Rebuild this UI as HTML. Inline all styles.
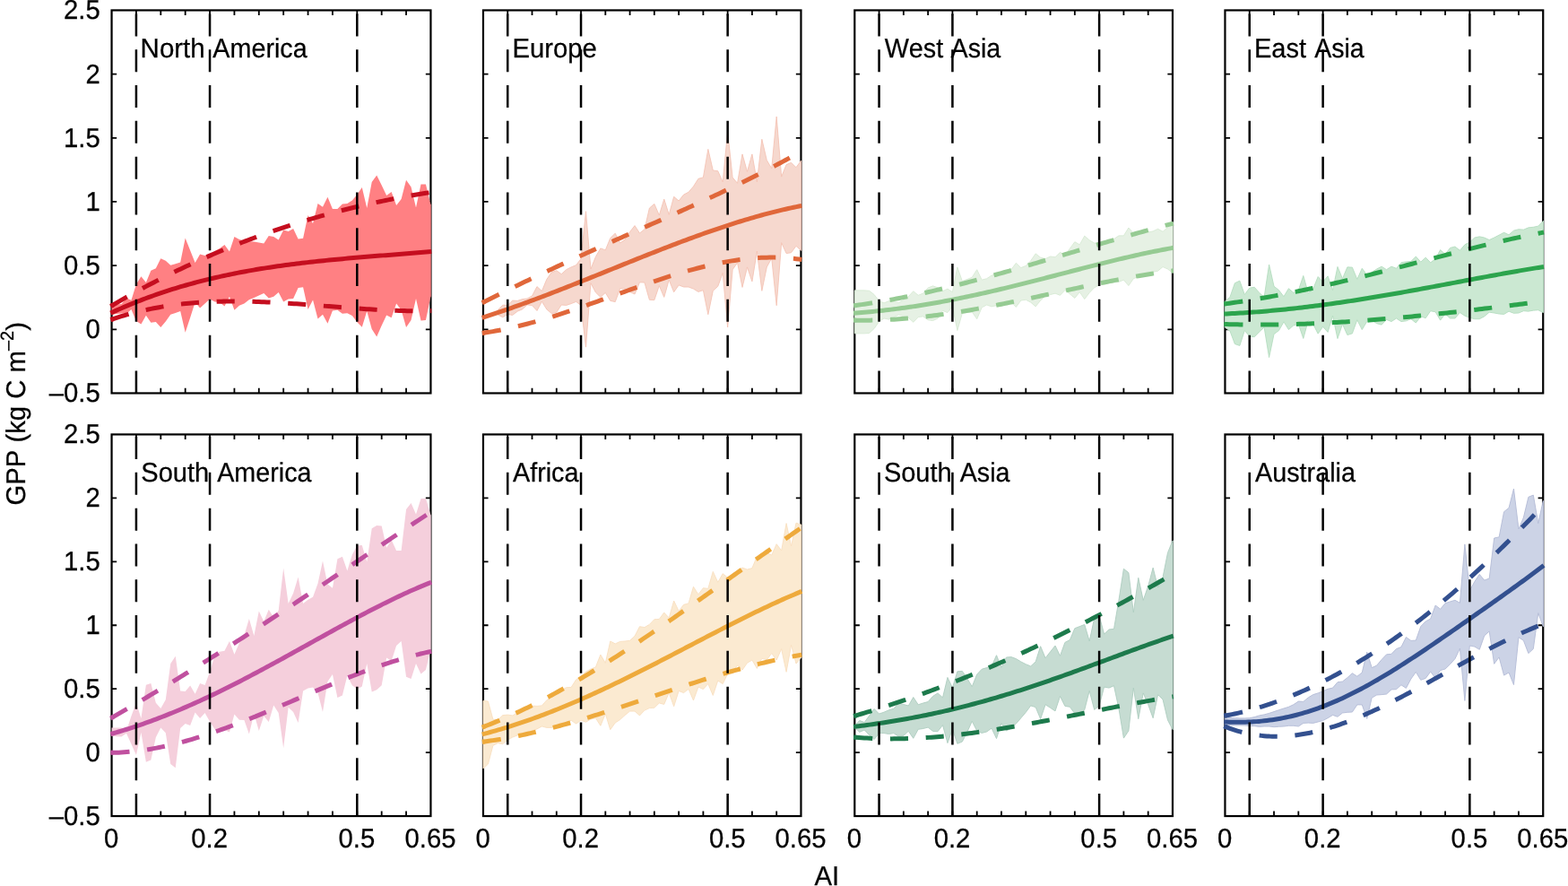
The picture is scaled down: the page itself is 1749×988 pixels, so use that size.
<!DOCTYPE html>
<html lang="en"><head><meta charset="utf-8"><title>GPP versus AI by region</title>
<style>html,body{margin:0;padding:0;background:#fff}body{width:1749px;height:988px;overflow:hidden}svg{display:block}text{font-family:"Liberation Sans", Arial, Helvetica, sans-serif;font-size:29.3px;fill:#000;stroke:#000;stroke-width:0.25px;text-rendering:geometricPrecision;font-kerning:none}</style></head><body>
<svg xmlns="http://www.w3.org/2000/svg" width="1749" height="988" viewBox="0 0 1749 988">
<rect width="1749" height="988" fill="#fff"/>
<g id="panel-1">
<rect x="124.55" y="11.45" width="355.89" height="427" fill="none" stroke="#000" stroke-width="2.2"/>
<path d="M151.93 11.45 v5.6 M151.93 438.45 v-5.6 M179.3 11.45 v5.6 M179.3 438.45 v-5.6 M206.68 11.45 v5.6 M206.68 438.45 v-5.6 M234.05 11.45 v5.6 M234.05 438.45 v-5.6 M261.43 11.45 v5.6 M261.43 438.45 v-5.6 M288.81 11.45 v5.6 M288.81 438.45 v-5.6 M316.18 11.45 v5.6 M316.18 438.45 v-5.6 M343.56 11.45 v5.6 M343.56 438.45 v-5.6 M370.94 11.45 v5.6 M370.94 438.45 v-5.6 M398.31 11.45 v5.6 M398.31 438.45 v-5.6 M425.69 11.45 v5.6 M425.69 438.45 v-5.6 M453.06 11.45 v5.6 M453.06 438.45 v-5.6 M124.55 82.62 h5.6 M480.44 82.62 h-5.6 M124.55 153.78 h5.6 M480.44 153.78 h-5.6 M124.55 224.95 h5.6 M480.44 224.95 h-5.6 M124.55 296.12 h5.6 M480.44 296.12 h-5.6 M124.55 367.28 h5.6 M480.44 367.28 h-5.6" stroke="#000" stroke-width="1.8" fill="none"/>
<path d="M124.55 343 L130.03 339.5 L135.5 339 L140.98 332.5 L146.45 334.8 L151.93 317.1 L157.4 308.3 L162.88 315 L168.35 301.7 L173.83 299.3 L179.3 288.3 L184.78 290.7 L190.25 295.7 L195.73 294.3 L201.2 292.6 L206.68 265.4 L212.15 279.3 L217.63 292.9 L223.1 283.6 L228.58 285 L234.05 283.6 L239.53 280 L245.01 277.1 L250.48 272.9 L255.96 280.4 L261.43 263.9 L266.91 267.1 L272.38 268.6 L277.86 269.3 L283.33 269.6 L288.81 270.4 L294.28 271.4 L299.76 262.9 L305.23 264 L310.71 267.6 L316.18 256.4 L321.66 257.9 L327.13 255 L332.61 266.4 L338.08 265.7 L343.56 240 L349.03 249.3 L354.51 227.1 L359.98 230.7 L365.46 219.7 L370.94 232.9 L376.41 233.1 L381.89 227.6 L387.36 227.1 L392.84 223.6 L398.31 217.1 L403.79 209 L409.26 232.1 L414.74 202.9 L420.21 195.4 L425.69 206.4 L431.16 218.1 L436.64 214 L442.11 229 L447.59 222.1 L453.06 200.7 L458.54 208.6 L464.01 231.4 L469.49 205.4 L474.96 205.4 L480.44 227.9 L480.74 227.9 L480.74 330.7 L480.44 330.7 L474.96 356.9 L469.49 357.4 L464.01 332.9 L458.54 357.1 L453.06 365 L447.59 345.7 L442.11 338.6 L436.64 354.3 L431.16 351.4 L425.69 362.9 L420.21 375.4 L414.74 367.1 L409.26 347.1 L403.79 364.7 L398.31 359.3 L392.84 352.1 L387.36 349.3 L381.89 349.7 L376.41 345.7 L370.94 346.4 L365.46 360.7 L359.98 350.7 L354.51 355.4 L349.03 334.6 L343.56 345 L338.08 320.3 L332.61 321.1 L327.13 332.9 L321.66 333.6 L316.18 336.4 L310.71 326 L305.23 330.7 L299.76 332.6 L294.28 326.9 L288.81 329.6 L283.33 332.1 L277.86 334.3 L272.38 338.6 L266.91 340.7 L261.43 345.7 L255.96 330.7 L250.48 341.4 L245.01 337.1 L239.53 336.4 L234.05 333.6 L228.58 338.6 L223.1 343.6 L217.63 337.1 L212.15 354.3 L206.68 370.7 L201.2 347.1 L195.73 348.9 L190.25 350.7 L184.78 358.6 L179.3 365 L173.83 358.9 L168.35 359.7 L162.88 351.7 L157.4 361.4 L151.93 357.9 L146.45 345 L140.98 350 L135.5 349.4 L130.03 350 L124.55 351Z" fill="#ff8083"/>
<path d="M123.35 341.56 L126.36 339.79 L129.36 338.04 L132.37 336.31 L135.38 334.58 L138.39 332.87 L141.39 331.17 L144.4 329.49 L147.41 327.81 L150.42 326.16 L153.42 324.51 L156.43 322.88 L159.44 321.26 L162.45 319.65 L165.45 318.06 L168.46 316.47 L171.47 314.91 L174.48 313.35 L177.48 311.81 L180.49 310.28 L183.5 308.76 L186.51 307.25 L189.51 305.76 L192.52 304.28 L195.53 302.81 L198.54 301.36 L201.54 299.91 L204.55 298.48 L207.56 297.06 L210.57 295.66 L213.57 294.26 L216.58 292.88 L219.59 291.51 L222.6 290.15 L225.6 288.81 L228.61 287.47 L231.62 286.15 L234.63 284.84 L237.63 283.55 L240.64 282.26 L243.65 280.98 L246.66 279.72 L249.66 278.47 L252.67 277.23 L255.68 276.01 L258.69 274.79 L261.69 273.59 L264.7 272.39 L267.71 271.21 L270.72 270.04 L273.72 268.88 L276.73 267.74 L279.74 266.6 L282.75 265.48 L285.75 264.36 L288.76 263.26 L291.77 262.17 L294.78 261.09 L297.78 260.02 L300.79 258.97 L303.8 257.92 L306.81 256.89 L309.81 255.86 L312.82 254.85 L315.83 253.85 L318.84 252.86 L321.84 251.87 L324.85 250.9 L327.86 249.95 L330.87 249 L333.87 248.06 L336.88 247.13 L339.89 246.22 L342.9 245.31 L345.9 244.41 L348.91 243.53 L351.92 242.66 L354.93 241.79 L357.93 240.94 L360.94 240.09 L363.95 239.26 L366.96 238.44 L369.96 237.63 L372.97 236.82 L375.98 236.03 L378.99 235.25 L381.99 234.48 L385 233.71 L388.01 232.96 L391.02 232.22 L394.02 231.49 L397.03 230.77 L400.04 230.05 L403.05 229.35 L406.05 228.66 L409.06 227.98 L412.07 227.3 L415.08 226.64 L418.08 225.98 L421.09 225.34 L424.1 224.71 L427.11 224.08 L430.11 223.46 L433.12 222.86 L436.13 222.26 L439.14 221.67 L442.14 221.1 L445.15 220.53 L448.16 219.97 L451.17 219.42 L454.17 218.88 L457.18 218.34 L460.19 217.82 L463.2 217.31 L466.2 216.8 L469.21 216.31 L472.22 215.82 L475.23 215.34 L478.23 214.88 L481.24 214.42" fill="none" stroke="#c50e1f" stroke-width="5" stroke-dasharray="20.1 19.7" stroke-dashoffset="-1.1"/>
<path d="M123.35 341.56 L126.36 339.79" fill="none" stroke="#c50e1f" stroke-width="5"/>
<path d="M123.35 356.62 L126.36 355.6 L129.36 354.6 L132.37 353.64 L135.38 352.71 L138.39 351.81 L141.39 350.94 L144.4 350.1 L147.41 349.29 L150.42 348.51 L153.42 347.75 L156.43 347.02 L159.44 346.32 L162.45 345.65 L165.45 345 L168.46 344.38 L171.47 343.79 L174.48 343.22 L177.48 342.68 L180.49 342.16 L183.5 341.66 L186.51 341.19 L189.51 340.74 L192.52 340.32 L195.53 339.91 L198.54 339.53 L201.54 339.17 L204.55 338.84 L207.56 338.52 L210.57 338.23 L213.57 337.95 L216.58 337.7 L219.59 337.46 L222.6 337.24 L225.6 337.05 L228.61 336.87 L231.62 336.71 L234.63 336.56 L237.63 336.44 L240.64 336.33 L243.65 336.23 L246.66 336.16 L249.66 336.09 L252.67 336.05 L255.68 336.02 L258.69 336 L261.69 335.99 L264.7 336 L267.71 336.03 L270.72 336.06 L273.72 336.11 L276.73 336.17 L279.74 336.24 L282.75 336.33 L285.75 336.42 L288.76 336.53 L291.77 336.64 L294.78 336.77 L297.78 336.9 L300.79 337.04 L303.8 337.19 L306.81 337.35 L309.81 337.52 L312.82 337.69 L315.83 337.87 L318.84 338.06 L321.84 338.25 L324.85 338.45 L327.86 338.65 L330.87 338.86 L333.87 339.08 L336.88 339.29 L339.89 339.52 L342.9 339.74 L345.9 339.97 L348.91 340.2 L351.92 340.43 L354.93 340.66 L357.93 340.9 L360.94 341.13 L363.95 341.37 L366.96 341.6 L369.96 341.84 L372.97 342.07 L375.98 342.31 L378.99 342.54 L381.99 342.77 L385 343 L388.01 343.22 L391.02 343.44 L394.02 343.66 L397.03 343.87 L400.04 344.08 L403.05 344.29 L406.05 344.49 L409.06 344.68 L412.07 344.87 L415.08 345.05 L418.08 345.23 L421.09 345.4 L424.1 345.56 L427.11 345.71 L430.11 345.85 L433.12 345.99 L436.13 346.11 L439.14 346.23 L442.14 346.34 L445.15 346.43 L448.16 346.52 L451.17 346.59 L454.17 346.65 L457.18 346.7 L460.19 346.74 L463.2 346.76 L466.2 346.78 L469.21 346.77 L472.22 346.76 L475.23 346.73 L478.23 346.68 L481.24 346.62" fill="none" stroke="#c50e1f" stroke-width="5" stroke-dasharray="20.1 19.7" stroke-dashoffset="-1.1"/>
<path d="M123.35 356.62 L126.36 355.6" fill="none" stroke="#c50e1f" stroke-width="5"/>
<path d="M123.35 349.11 L126.36 347.72 L129.36 346.36 L132.37 345.02 L135.38 343.7 L138.39 342.4 L141.39 341.13 L144.4 339.87 L147.41 338.64 L150.42 337.42 L153.42 336.23 L156.43 335.06 L159.44 333.9 L162.45 332.77 L165.45 331.66 L168.46 330.56 L171.47 329.49 L174.48 328.43 L177.48 327.39 L180.49 326.37 L183.5 325.37 L186.51 324.39 L189.51 323.42 L192.52 322.47 L195.53 321.54 L198.54 320.63 L201.54 319.73 L204.55 318.85 L207.56 317.99 L210.57 317.14 L213.57 316.31 L216.58 315.49 L219.59 314.69 L222.6 313.91 L225.6 313.14 L228.61 312.38 L231.62 311.64 L234.63 310.92 L237.63 310.2 L240.64 309.51 L243.65 308.82 L246.66 308.15 L249.66 307.49 L252.67 306.85 L255.68 306.22 L258.69 305.6 L261.69 305 L264.7 304.4 L267.71 303.82 L270.72 303.25 L273.72 302.7 L276.73 302.15 L279.74 301.62 L282.75 301.09 L285.75 300.58 L288.76 300.08 L291.77 299.59 L294.78 299.1 L297.78 298.63 L300.79 298.17 L303.8 297.72 L306.81 297.28 L309.81 296.84 L312.82 296.42 L315.83 296 L318.84 295.6 L321.84 295.2 L324.85 294.81 L327.86 294.42 L330.87 294.05 L333.87 293.68 L336.88 293.32 L339.89 292.96 L342.9 292.62 L345.9 292.28 L348.91 291.94 L351.92 291.62 L354.93 291.3 L357.93 290.98 L360.94 290.67 L363.95 290.37 L366.96 290.07 L369.96 289.77 L372.97 289.48 L375.98 289.2 L378.99 288.92 L381.99 288.64 L385 288.37 L388.01 288.1 L391.02 287.84 L394.02 287.58 L397.03 287.32 L400.04 287.07 L403.05 286.81 L406.05 286.56 L409.06 286.32 L412.07 286.07 L415.08 285.83 L418.08 285.59 L421.09 285.35 L424.1 285.11 L427.11 284.87 L430.11 284.64 L433.12 284.4 L436.13 284.17 L439.14 283.93 L442.14 283.7 L445.15 283.46 L448.16 283.23 L451.17 283 L454.17 282.76 L457.18 282.53 L460.19 282.29 L463.2 282.05 L466.2 281.81 L469.21 281.57 L472.22 281.33 L475.23 281.08 L478.23 280.84 L481.24 280.59" fill="none" stroke="#c50e1f" stroke-width="5"/>
<path d="M151.93 438.45 V11.45" stroke="#000" stroke-width="2.5" stroke-dasharray="25 14.8" fill="none"/>
<path d="M234.05 438.45 V11.45" stroke="#000" stroke-width="2.5" stroke-dasharray="25 14.8" fill="none"/>
<path d="M398.31 438.45 V11.45" stroke="#000" stroke-width="2.5" stroke-dasharray="25 14.8" fill="none"/>
<text transform="translate(0 64.05) scale(1 1.03)"><tspan x="156.58" textLength="72.14" lengthAdjust="spacingAndGlyphs">North</tspan> <tspan x="237.34" textLength="105.36" lengthAdjust="spacingAndGlyphs">America</tspan></text>
<text transform="translate(111.7 21.35) scale(1 1.03)" text-anchor="end">2.5</text>
<text transform="translate(111.7 92.52) scale(1 1.03)" text-anchor="end">2</text>
<text transform="translate(111.7 163.68) scale(1 1.03)" text-anchor="end">1.5</text>
<text transform="translate(111.7 234.85) scale(1 1.03)" text-anchor="end">1</text>
<text transform="translate(111.7 306.02) scale(1 1.03)" text-anchor="end">0.5</text>
<text transform="translate(111.7 377.18) scale(1 1.03)" text-anchor="end">0</text>
<text transform="translate(111.7 448.35) scale(1 1.03)" text-anchor="end">–0.5</text>
</g>
<g id="panel-2">
<rect x="538.97" y="11.45" width="354.49" height="427" fill="none" stroke="#000" stroke-width="2.2"/>
<path d="M566.24 11.45 v5.6 M566.24 438.45 v-5.6 M593.51 11.45 v5.6 M593.51 438.45 v-5.6 M620.78 11.45 v5.6 M620.78 438.45 v-5.6 M648.04 11.45 v5.6 M648.04 438.45 v-5.6 M675.31 11.45 v5.6 M675.31 438.45 v-5.6 M702.58 11.45 v5.6 M702.58 438.45 v-5.6 M729.85 11.45 v5.6 M729.85 438.45 v-5.6 M757.12 11.45 v5.6 M757.12 438.45 v-5.6 M784.39 11.45 v5.6 M784.39 438.45 v-5.6 M811.65 11.45 v5.6 M811.65 438.45 v-5.6 M838.92 11.45 v5.6 M838.92 438.45 v-5.6 M866.19 11.45 v5.6 M866.19 438.45 v-5.6 M538.97 82.62 h5.6 M893.46 82.62 h-5.6 M538.97 153.78 h5.6 M893.46 153.78 h-5.6 M538.97 224.95 h5.6 M893.46 224.95 h-5.6 M538.97 296.12 h5.6 M893.46 296.12 h-5.6 M538.97 367.28 h5.6 M893.46 367.28 h-5.6" stroke="#000" stroke-width="1.8" fill="none"/>
<path d="M555.33 345.8 L560.78 340.2 L566.24 340.4 L571.69 335.1 L577.15 335.4 L582.6 333.6 L588.05 333 L593.51 330 L598.96 319.6 L604.41 324.6 L609.87 311.4 L615.32 303.6 L620.78 301.7 L626.23 305.7 L631.68 300.7 L637.14 297.9 L642.59 295.7 L648.04 288.6 L653.5 235.7 L658.95 300 L664.4 286.4 L669.86 276.9 L675.31 278.9 L680.77 265.5 L686.22 260.2 L691.67 271 L697.13 267.1 L702.58 258.6 L708.03 251.6 L713.49 260 L718.94 255.7 L724.4 232.1 L729.85 227.4 L735.3 240 L740.76 222.1 L746.21 239.3 L751.66 219.3 L757.12 224 L762.57 217.1 L768.03 214.3 L773.48 207.9 L778.93 199.3 L784.39 197.9 L789.84 166.4 L795.29 190 L800.75 190.7 L806.2 202.9 L811.65 147 L817.11 197.9 L822.56 204.3 L828.02 171.9 L833.47 191.4 L838.92 171.9 L844.38 202.9 L849.83 155.3 L855.28 178.6 L860.74 187.9 L866.19 130 L871.65 197.1 L877.1 183.6 L882.55 181.4 L888.01 186.7 L893.46 179.3 L893.76 179.3 L893.76 279.3 L893.46 279.3 L888.01 274.3 L882.55 281.7 L877.1 282.6 L871.65 270.7 L866.19 340.7 L860.74 287.9 L855.28 297.9 L849.83 324.3 L844.38 280 L838.92 313.9 L833.47 297.9 L828.02 320.4 L822.56 292.9 L817.11 300.7 L811.65 365 L806.2 304.3 L800.75 319.3 L795.29 324.3 L789.84 350.7 L784.39 323.6 L778.93 325.4 L773.48 322.1 L768.03 320 L762.57 320 L757.12 317.9 L751.66 325.7 L746.21 312.1 L740.76 331.4 L735.3 318.6 L729.85 334.6 L724.4 334.3 L718.94 315 L713.49 314.8 L708.03 328 L702.58 325.4 L697.13 322.1 L691.67 321.8 L686.22 336.6 L680.77 335.4 L675.31 326.4 L669.86 331.4 L664.4 326 L658.95 315.7 L653.5 387.1 L648.04 340.4 L642.59 336.4 L637.14 338.6 L631.68 340.4 L626.23 340 L620.78 348.3 L615.32 349.6 L609.87 345 L604.41 336.2 L598.96 346.5 L593.51 340.6 L588.05 339.9 L582.6 344.9 L577.15 347.2 L571.69 351.4 L566.24 350.4 L560.78 353.8 L555.33 351Z" fill="#f6d8ce" stroke="#f4c3b4" stroke-width="0.9" stroke-linejoin="round"/>
<path d="M537.77 337.77 L540.77 336.25 L543.76 334.74 L546.76 333.23 L549.75 331.73 L552.75 330.23 L555.74 328.74 L558.74 327.25 L561.74 325.77 L564.73 324.3 L567.73 322.82 L570.72 321.36 L573.72 319.9 L576.71 318.44 L579.71 316.99 L582.71 315.54 L585.7 314.1 L588.7 312.66 L591.69 311.23 L594.69 309.8 L597.68 308.38 L600.68 306.96 L603.68 305.54 L606.67 304.13 L609.67 302.73 L612.66 301.32 L615.66 299.93 L618.65 298.53 L621.65 297.14 L624.65 295.75 L627.64 294.37 L630.64 292.99 L633.63 291.62 L636.63 290.24 L639.62 288.87 L642.62 287.51 L645.62 286.15 L648.61 284.79 L651.61 283.43 L654.6 282.08 L657.6 280.72 L660.59 279.38 L663.59 278.03 L666.59 276.68 L669.58 275.34 L672.58 274 L675.57 272.66 L678.57 271.33 L681.56 269.99 L684.56 268.66 L687.56 267.33 L690.55 266 L693.55 264.67 L696.54 263.34 L699.54 262.01 L702.53 260.69 L705.53 259.36 L708.53 258.04 L711.52 256.71 L714.52 255.38 L717.51 254.06 L720.51 252.73 L723.5 251.41 L726.5 250.08 L729.5 248.75 L732.49 247.42 L735.49 246.09 L738.48 244.76 L741.48 243.43 L744.47 242.09 L747.47 240.75 L750.47 239.42 L753.46 238.08 L756.46 236.73 L759.45 235.39 L762.45 234.04 L765.44 232.68 L768.44 231.33 L771.44 229.97 L774.43 228.61 L777.43 227.24 L780.42 225.87 L783.42 224.5 L786.41 223.12 L789.41 221.73 L792.41 220.34 L795.4 218.95 L798.4 217.55 L801.39 216.15 L804.39 214.73 L807.38 213.32 L810.38 211.89 L813.38 210.46 L816.37 209.03 L819.37 207.58 L822.36 206.13 L825.36 204.67 L828.35 203.21 L831.35 201.73 L834.35 200.25 L837.34 198.76 L840.34 197.25 L843.33 195.75 L846.33 194.23 L849.32 192.7 L852.32 191.16 L855.32 189.61 L858.31 188.05 L861.31 186.48 L864.3 184.9 L867.3 183.31 L870.29 181.7 L873.29 180.09 L876.29 178.46 L879.28 176.82 L882.28 175.16 L885.27 173.5 L888.27 171.82 L891.26 170.13 L894.26 168.42" fill="none" stroke="#e0673a" stroke-width="5" stroke-dasharray="20.1 19.7" stroke-dashoffset="-1.1"/>
<path d="M537.77 337.77 L540.77 336.25" fill="none" stroke="#e0673a" stroke-width="5"/>
<path d="M537.77 371.47 L540.77 371.04 L543.76 370.58 L546.76 370.1 L549.75 369.59 L552.75 369.06 L555.74 368.5 L558.74 367.92 L561.74 367.32 L564.73 366.7 L567.73 366.05 L570.72 365.39 L573.72 364.7 L576.71 363.99 L579.71 363.27 L582.71 362.52 L585.7 361.76 L588.7 360.98 L591.69 360.18 L594.69 359.36 L597.68 358.52 L600.68 357.68 L603.68 356.81 L606.67 355.93 L609.67 355.04 L612.66 354.13 L615.66 353.21 L618.65 352.27 L621.65 351.33 L624.65 350.37 L627.64 349.4 L630.64 348.42 L633.63 347.43 L636.63 346.43 L639.62 345.42 L642.62 344.41 L645.62 343.38 L648.61 342.35 L651.61 341.31 L654.6 340.27 L657.6 339.22 L660.59 338.16 L663.59 337.1 L666.59 336.04 L669.58 334.97 L672.58 333.9 L675.57 332.83 L678.57 331.75 L681.56 330.68 L684.56 329.6 L687.56 328.53 L690.55 327.45 L693.55 326.38 L696.54 325.31 L699.54 324.24 L702.53 323.18 L705.53 322.11 L708.53 321.05 L711.52 320 L714.52 318.95 L717.51 317.91 L720.51 316.88 L723.5 315.85 L726.5 314.83 L729.5 313.82 L732.49 312.81 L735.49 311.82 L738.48 310.84 L741.48 309.86 L744.47 308.9 L747.47 307.95 L750.47 307.02 L753.46 306.09 L756.46 305.18 L759.45 304.29 L762.45 303.41 L765.44 302.55 L768.44 301.7 L771.44 300.87 L774.43 300.06 L777.43 299.26 L780.42 298.49 L783.42 297.73 L786.41 297 L789.41 296.28 L792.41 295.59 L795.4 294.92 L798.4 294.27 L801.39 293.65 L804.39 293.05 L807.38 292.47 L810.38 291.92 L813.38 291.4 L816.37 290.9 L819.37 290.43 L822.36 289.98 L825.36 289.57 L828.35 289.19 L831.35 288.83 L834.35 288.51 L837.34 288.22 L840.34 287.96 L843.33 287.73 L846.33 287.53 L849.32 287.37 L852.32 287.25 L855.32 287.16 L858.31 287.11 L861.31 287.09 L864.3 287.11 L867.3 287.17 L870.29 287.26 L873.29 287.4 L876.29 287.58 L879.28 287.8 L882.28 288.05 L885.27 288.36 L888.27 288.7 L891.26 289.09 L894.26 289.52" fill="none" stroke="#e0673a" stroke-width="5" stroke-dasharray="20.1 19.7" stroke-dashoffset="-1.1"/>
<path d="M537.77 371.47 L540.77 371.04" fill="none" stroke="#e0673a" stroke-width="5"/>
<path d="M537.77 354.27 L540.77 353.32 L543.76 352.36 L546.76 351.39 L549.75 350.41 L552.75 349.42 L555.74 348.42 L558.74 347.41 L561.74 346.39 L564.73 345.36 L567.73 344.32 L570.72 343.28 L573.72 342.22 L576.71 341.16 L579.71 340.08 L582.71 339 L585.7 337.92 L588.7 336.82 L591.69 335.72 L594.69 334.61 L597.68 333.5 L600.68 332.37 L603.68 331.24 L606.67 330.11 L609.67 328.97 L612.66 327.82 L615.66 326.67 L618.65 325.52 L621.65 324.36 L624.65 323.19 L627.64 322.02 L630.64 320.85 L633.63 319.67 L636.63 318.49 L639.62 317.3 L642.62 316.11 L645.62 314.92 L648.61 313.73 L651.61 312.53 L654.6 311.33 L657.6 310.13 L660.59 308.93 L663.59 307.72 L666.59 306.52 L669.58 305.31 L672.58 304.1 L675.57 302.89 L678.57 301.68 L681.56 300.48 L684.56 299.27 L687.56 298.06 L690.55 296.85 L693.55 295.64 L696.54 294.44 L699.54 293.23 L702.53 292.03 L705.53 290.83 L708.53 289.63 L711.52 288.43 L714.52 287.23 L717.51 286.04 L720.51 284.85 L723.5 283.67 L726.5 282.48 L729.5 281.31 L732.49 280.13 L735.49 278.96 L738.48 277.79 L741.48 276.63 L744.47 275.48 L747.47 274.32 L750.47 273.18 L753.46 272.04 L756.46 270.9 L759.45 269.78 L762.45 268.65 L765.44 267.54 L768.44 266.43 L771.44 265.33 L774.43 264.23 L777.43 263.15 L780.42 262.07 L783.42 261 L786.41 259.94 L789.41 258.88 L792.41 257.84 L795.4 256.81 L798.4 255.78 L801.39 254.76 L804.39 253.76 L807.38 252.76 L810.38 251.77 L813.38 250.8 L816.37 249.84 L819.37 248.88 L822.36 247.94 L825.36 247.01 L828.35 246.09 L831.35 245.19 L834.35 244.29 L837.34 243.41 L840.34 242.54 L843.33 241.69 L846.33 240.85 L849.32 240.02 L852.32 239.2 L855.32 238.41 L858.31 237.62 L861.31 236.85 L864.3 236.09 L867.3 235.35 L870.29 234.63 L873.29 233.92 L876.29 233.23 L879.28 232.55 L882.28 231.89 L885.27 231.25 L888.27 230.62 L891.26 230.01 L894.26 229.42" fill="none" stroke="#e0673a" stroke-width="5"/>
<path d="M566.24 438.45 V11.45" stroke="#000" stroke-width="2.5" stroke-dasharray="25 14.8" fill="none"/>
<path d="M648.04 438.45 V11.45" stroke="#000" stroke-width="2.5" stroke-dasharray="25 14.8" fill="none"/>
<path d="M811.65 438.45 V11.45" stroke="#000" stroke-width="2.5" stroke-dasharray="25 14.8" fill="none"/>
<text transform="translate(0 64.05) scale(1 1.03)"><tspan x="571.4" textLength="94.4" lengthAdjust="spacingAndGlyphs">Europe</tspan></text>
</g>
<g id="panel-3">
<rect x="953.28" y="11.45" width="354.69" height="427" fill="none" stroke="#000" stroke-width="2.2"/>
<path d="M980.56 11.45 v5.6 M980.56 438.45 v-5.6 M1007.85 11.45 v5.6 M1007.85 438.45 v-5.6 M1035.13 11.45 v5.6 M1035.13 438.45 v-5.6 M1062.42 11.45 v5.6 M1062.42 438.45 v-5.6 M1089.7 11.45 v5.6 M1089.7 438.45 v-5.6 M1116.98 11.45 v5.6 M1116.98 438.45 v-5.6 M1144.27 11.45 v5.6 M1144.27 438.45 v-5.6 M1171.55 11.45 v5.6 M1171.55 438.45 v-5.6 M1198.83 11.45 v5.6 M1198.83 438.45 v-5.6 M1226.12 11.45 v5.6 M1226.12 438.45 v-5.6 M1253.4 11.45 v5.6 M1253.4 438.45 v-5.6 M1280.69 11.45 v5.6 M1280.69 438.45 v-5.6 M953.28 82.62 h5.6 M1307.97 82.62 h-5.6 M953.28 153.78 h5.6 M1307.97 153.78 h-5.6 M953.28 224.95 h5.6 M1307.97 224.95 h-5.6 M953.28 296.12 h5.6 M1307.97 296.12 h-5.6 M953.28 367.28 h5.6 M1307.97 367.28 h-5.6" stroke="#000" stroke-width="1.8" fill="none"/>
<path d="M953.28 323.86 L958.74 323.86 L964.19 323.86 L969.65 324.29 L975.11 328.57 L980.56 335.71 L986.02 337.86 L991.48 335.71 L996.93 336.43 L1002.39 337.57 L1007.85 334.29 L1013.3 330.71 L1018.76 324.71 L1024.22 329.29 L1029.67 327.14 L1035.13 321 L1040.59 318.86 L1046.05 320.71 L1051.5 324.71 L1056.96 322.14 L1062.42 325.71 L1067.87 297.86 L1073.33 313.57 L1078.79 311.43 L1084.24 309.29 L1089.7 300.71 L1095.16 312.14 L1100.61 310.71 L1106.07 307.14 L1111.53 305.71 L1116.98 303.57 L1122.44 302.14 L1127.9 300.71 L1133.35 293.29 L1138.81 298.57 L1144.27 296.43 L1149.72 290.71 L1155.18 282.86 L1160.64 287.14 L1166.09 288.57 L1171.55 286 L1177.01 286.71 L1182.46 281.43 L1187.92 284.29 L1193.38 277.14 L1198.83 269.71 L1204.29 272.86 L1209.75 263.14 L1215.2 267.86 L1220.66 271 L1226.12 271.43 L1231.58 269.29 L1237.03 267.86 L1242.49 266.43 L1247.95 262.86 L1253.4 262.86 L1258.86 254 L1264.32 260 L1269.77 259.29 L1275.23 258.57 L1280.69 259 L1286.14 257.86 L1291.6 255.29 L1297.06 258.29 L1302.51 253.57 L1307.97 247.86 L1308.27 247.86 L1308.27 304.29 L1307.97 304.29 L1302.51 300 L1297.06 297.57 L1291.6 302.14 L1286.14 303.29 L1280.69 305 L1275.23 307.14 L1269.77 308.57 L1264.32 310.71 L1258.86 318.57 L1253.4 312.14 L1247.95 314.29 L1242.49 315 L1237.03 315.71 L1231.58 317.14 L1226.12 317.86 L1220.66 320.71 L1215.2 326.43 L1209.75 333.57 L1204.29 325.71 L1198.83 332.43 L1193.38 327.86 L1187.92 323.57 L1182.46 329.29 L1177.01 327.14 L1171.55 328.57 L1166.09 330 L1160.64 335 L1155.18 341.86 L1149.72 337.14 L1144.27 334.29 L1138.81 335 L1133.35 342.43 L1127.9 337.14 L1122.44 338.57 L1116.98 339.29 L1111.53 340.71 L1106.07 341.86 L1100.61 340 L1095.16 342.86 L1089.7 355.71 L1084.24 347.86 L1078.79 348.57 L1073.33 349.29 L1067.87 368.57 L1062.42 341.43 L1056.96 348.57 L1051.5 346.43 L1046.05 355 L1040.59 357.57 L1035.13 356.71 L1029.67 352.86 L1024.22 353.57 L1018.76 359.29 L1013.3 354.29 L1007.85 352.86 L1002.39 351 L996.93 353.57 L991.48 356.14 L986.02 355 L980.56 358.57 L975.11 366.43 L969.65 371.43 L964.19 371.86 L958.74 371.86 L953.28 371.86Z" fill="#e6f1e4" stroke="#d7ead4" stroke-width="0.9" stroke-linejoin="round"/>
<path d="M952.08 340.85 L955.08 340.46 L958.07 340.05 L961.07 339.62 L964.07 339.19 L967.07 338.74 L970.06 338.28 L973.06 337.81 L976.06 337.33 L979.06 336.84 L982.05 336.33 L985.05 335.82 L988.05 335.29 L991.05 334.75 L994.04 334.21 L997.04 333.65 L1000.04 333.08 L1003.04 332.5 L1006.03 331.91 L1009.03 331.31 L1012.03 330.71 L1015.03 330.09 L1018.02 329.46 L1021.02 328.83 L1024.02 328.18 L1027.01 327.53 L1030.01 326.87 L1033.01 326.2 L1036.01 325.52 L1039 324.83 L1042 324.13 L1045 323.43 L1048 322.72 L1050.99 322 L1053.99 321.27 L1056.99 320.54 L1059.99 319.8 L1062.98 319.05 L1065.98 318.3 L1068.98 317.54 L1071.98 316.77 L1074.97 316 L1077.97 315.22 L1080.97 314.43 L1083.97 313.64 L1086.96 312.84 L1089.96 312.04 L1092.96 311.23 L1095.95 310.42 L1098.95 309.6 L1101.95 308.78 L1104.95 307.95 L1107.94 307.12 L1110.94 306.28 L1113.94 305.44 L1116.94 304.59 L1119.93 303.74 L1122.93 302.89 L1125.93 302.03 L1128.93 301.17 L1131.92 300.31 L1134.92 299.44 L1137.92 298.57 L1140.92 297.7 L1143.91 296.82 L1146.91 295.95 L1149.91 295.06 L1152.91 294.18 L1155.9 293.3 L1158.9 292.41 L1161.9 291.52 L1164.9 290.63 L1167.89 289.74 L1170.89 288.85 L1173.89 287.95 L1176.88 287.06 L1179.88 286.16 L1182.88 285.27 L1185.88 284.37 L1188.87 283.47 L1191.87 282.58 L1194.87 281.68 L1197.87 280.78 L1200.86 279.88 L1203.86 278.99 L1206.86 278.09 L1209.86 277.19 L1212.85 276.3 L1215.85 275.41 L1218.85 274.51 L1221.85 273.62 L1224.84 272.73 L1227.84 271.85 L1230.84 270.96 L1233.84 270.07 L1236.83 269.19 L1239.83 268.31 L1242.83 267.43 L1245.82 266.56 L1248.82 265.69 L1251.82 264.82 L1254.82 263.95 L1257.81 263.09 L1260.81 262.23 L1263.81 261.37 L1266.81 260.52 L1269.8 259.67 L1272.8 258.83 L1275.8 257.98 L1278.8 257.15 L1281.79 256.32 L1284.79 255.49 L1287.79 254.66 L1290.79 253.85 L1293.78 253.03 L1296.78 252.23 L1299.78 251.42 L1302.78 250.63 L1305.77 249.83 L1308.77 249.05" fill="none" stroke="#96cb93" stroke-width="5" stroke-dasharray="20.1 19.7" stroke-dashoffset="-1.1"/>
<path d="M952.08 340.85 L955.08 340.46" fill="none" stroke="#96cb93" stroke-width="5"/>
<path d="M952.08 357.08 L955.08 357.14 L958.07 357.18 L961.07 357.2 L964.07 357.2 L967.07 357.19 L970.06 357.16 L973.06 357.11 L976.06 357.05 L979.06 356.97 L982.05 356.87 L985.05 356.75 L988.05 356.62 L991.05 356.48 L994.04 356.32 L997.04 356.14 L1000.04 355.95 L1003.04 355.74 L1006.03 355.52 L1009.03 355.29 L1012.03 355.04 L1015.03 354.77 L1018.02 354.5 L1021.02 354.21 L1024.02 353.9 L1027.01 353.59 L1030.01 353.26 L1033.01 352.92 L1036.01 352.56 L1039 352.2 L1042 351.82 L1045 351.43 L1048 351.03 L1050.99 350.61 L1053.99 350.19 L1056.99 349.76 L1059.99 349.31 L1062.98 348.86 L1065.98 348.39 L1068.98 347.92 L1071.98 347.44 L1074.97 346.95 L1077.97 346.44 L1080.97 345.93 L1083.97 345.42 L1086.96 344.89 L1089.96 344.35 L1092.96 343.81 L1095.95 343.26 L1098.95 342.7 L1101.95 342.14 L1104.95 341.57 L1107.94 340.99 L1110.94 340.41 L1113.94 339.82 L1116.94 339.23 L1119.93 338.63 L1122.93 338.02 L1125.93 337.41 L1128.93 336.8 L1131.92 336.18 L1134.92 335.55 L1137.92 334.93 L1140.92 334.29 L1143.91 333.66 L1146.91 333.02 L1149.91 332.38 L1152.91 331.74 L1155.9 331.1 L1158.9 330.45 L1161.9 329.8 L1164.9 329.15 L1167.89 328.5 L1170.89 327.85 L1173.89 327.2 L1176.88 326.54 L1179.88 325.89 L1182.88 325.24 L1185.88 324.59 L1188.87 323.94 L1191.87 323.29 L1194.87 322.64 L1197.87 321.99 L1200.86 321.34 L1203.86 320.7 L1206.86 320.06 L1209.86 319.42 L1212.85 318.79 L1215.85 318.16 L1218.85 317.53 L1221.85 316.91 L1224.84 316.29 L1227.84 315.67 L1230.84 315.06 L1233.84 314.45 L1236.83 313.85 L1239.83 313.26 L1242.83 312.67 L1245.82 312.09 L1248.82 311.51 L1251.82 310.94 L1254.82 310.38 L1257.81 309.83 L1260.81 309.28 L1263.81 308.74 L1266.81 308.21 L1269.8 307.69 L1272.8 307.18 L1275.8 306.67 L1278.8 306.18 L1281.79 305.7 L1284.79 305.22 L1287.79 304.76 L1290.79 304.31 L1293.78 303.86 L1296.78 303.43 L1299.78 303.01 L1302.78 302.61 L1305.77 302.21 L1308.77 301.83" fill="none" stroke="#96cb93" stroke-width="5" stroke-dasharray="20.1 19.7" stroke-dashoffset="-1.1"/>
<path d="M952.08 357.08 L955.08 357.14" fill="none" stroke="#96cb93" stroke-width="5"/>
<path d="M952.08 349.14 L955.08 348.92 L958.07 348.7 L961.07 348.46 L964.07 348.22 L967.07 347.96 L970.06 347.69 L973.06 347.41 L976.06 347.12 L979.06 346.82 L982.05 346.5 L985.05 346.18 L988.05 345.84 L991.05 345.49 L994.04 345.14 L997.04 344.77 L1000.04 344.39 L1003.04 344 L1006.03 343.6 L1009.03 343.19 L1012.03 342.76 L1015.03 342.33 L1018.02 341.89 L1021.02 341.44 L1024.02 340.97 L1027.01 340.5 L1030.01 340.02 L1033.01 339.53 L1036.01 339.02 L1039 338.51 L1042 337.99 L1045 337.46 L1048 336.92 L1050.99 336.37 L1053.99 335.82 L1056.99 335.25 L1059.99 334.67 L1062.98 334.09 L1065.98 333.5 L1068.98 332.9 L1071.98 332.29 L1074.97 331.67 L1077.97 331.05 L1080.97 330.42 L1083.97 329.78 L1086.96 329.13 L1089.96 328.47 L1092.96 327.81 L1095.95 327.15 L1098.95 326.47 L1101.95 325.79 L1104.95 325.1 L1107.94 324.41 L1110.94 323.71 L1113.94 323 L1116.94 322.29 L1119.93 321.57 L1122.93 320.85 L1125.93 320.12 L1128.93 319.39 L1131.92 318.66 L1134.92 317.92 L1137.92 317.17 L1140.92 316.42 L1143.91 315.67 L1146.91 314.91 L1149.91 314.15 L1152.91 313.39 L1155.9 312.63 L1158.9 311.86 L1161.9 311.09 L1164.9 310.32 L1167.89 309.54 L1170.89 308.77 L1173.89 307.99 L1176.88 307.21 L1179.88 306.43 L1182.88 305.65 L1185.88 304.88 L1188.87 304.1 L1191.87 303.32 L1194.87 302.54 L1197.87 301.76 L1200.86 300.98 L1203.86 300.21 L1206.86 299.43 L1209.86 298.66 L1212.85 297.89 L1215.85 297.12 L1218.85 296.36 L1221.85 295.59 L1224.84 294.84 L1227.84 294.08 L1230.84 293.33 L1233.84 292.59 L1236.83 291.84 L1239.83 291.11 L1242.83 290.38 L1245.82 289.65 L1248.82 288.93 L1251.82 288.22 L1254.82 287.51 L1257.81 286.81 L1260.81 286.12 L1263.81 285.44 L1266.81 284.76 L1269.8 284.09 L1272.8 283.43 L1275.8 282.78 L1278.8 282.14 L1281.79 281.51 L1284.79 280.89 L1287.79 280.28 L1290.79 279.68 L1293.78 279.09 L1296.78 278.52 L1299.78 277.95 L1302.78 277.4 L1305.77 276.86 L1308.77 276.33" fill="none" stroke="#96cb93" stroke-width="5"/>
<path d="M980.56 438.45 V11.45" stroke="#000" stroke-width="2.5" stroke-dasharray="25 14.8" fill="none"/>
<path d="M1062.42 438.45 V11.45" stroke="#000" stroke-width="2.5" stroke-dasharray="25 14.8" fill="none"/>
<path d="M1226.12 438.45 V11.45" stroke="#000" stroke-width="2.5" stroke-dasharray="25 14.8" fill="none"/>
<text transform="translate(0 64.05) scale(1 1.03)"><tspan x="986.67" textLength="65.54" lengthAdjust="spacingAndGlyphs">West</tspan> <tspan x="1060.54" textLength="55.76" lengthAdjust="spacingAndGlyphs">Asia</tspan></text>
</g>
<g id="panel-4">
<rect x="1366.46" y="11.45" width="354.77" height="427" fill="none" stroke="#000" stroke-width="2.2"/>
<path d="M1393.75 11.45 v5.6 M1393.75 438.45 v-5.6 M1421.04 11.45 v5.6 M1421.04 438.45 v-5.6 M1448.33 11.45 v5.6 M1448.33 438.45 v-5.6 M1475.62 11.45 v5.6 M1475.62 438.45 v-5.6 M1502.91 11.45 v5.6 M1502.91 438.45 v-5.6 M1530.2 11.45 v5.6 M1530.2 438.45 v-5.6 M1557.49 11.45 v5.6 M1557.49 438.45 v-5.6 M1584.78 11.45 v5.6 M1584.78 438.45 v-5.6 M1612.07 11.45 v5.6 M1612.07 438.45 v-5.6 M1639.36 11.45 v5.6 M1639.36 438.45 v-5.6 M1666.65 11.45 v5.6 M1666.65 438.45 v-5.6 M1693.94 11.45 v5.6 M1693.94 438.45 v-5.6 M1366.46 82.62 h5.6 M1721.23 82.62 h-5.6 M1366.46 153.78 h5.6 M1721.23 153.78 h-5.6 M1366.46 224.95 h5.6 M1721.23 224.95 h-5.6 M1366.46 296.12 h5.6 M1721.23 296.12 h-5.6 M1366.46 367.28 h5.6 M1721.23 367.28 h-5.6" stroke="#000" stroke-width="1.8" fill="none"/>
<path d="M1366.46 336 L1371.92 331.43 L1377.38 315.71 L1382.83 313.14 L1388.29 328.57 L1393.75 321.14 L1399.21 320.29 L1404.67 326.43 L1410.12 331.43 L1415.58 295 L1421.04 319.29 L1426.5 323.57 L1431.96 330.71 L1437.41 321.71 L1442.87 326.43 L1448.33 323.57 L1453.79 307.43 L1459.25 326.86 L1464.7 322.14 L1470.16 308.57 L1475.62 314.29 L1481.08 307.86 L1486.54 323.57 L1491.99 297.43 L1497.45 310.71 L1502.91 297.86 L1508.37 298.14 L1513.83 311.43 L1519.28 299.29 L1524.74 306.43 L1530.2 303.57 L1535.66 300 L1541.12 297.14 L1546.57 300.71 L1552.03 297.14 L1557.49 299.29 L1562.95 292.86 L1568.41 291.86 L1573.86 291.43 L1579.32 286 L1584.78 292.14 L1590.24 287.14 L1595.7 292.86 L1601.15 288.57 L1606.61 278.57 L1612.07 283.57 L1617.53 276.43 L1622.99 275 L1628.44 279.29 L1633.9 272.86 L1639.36 270 L1644.82 265 L1650.28 263.86 L1655.73 265 L1661.19 267.57 L1666.65 265 L1672.11 262.14 L1677.57 259.29 L1683.02 261.86 L1688.48 257.14 L1693.94 255.71 L1699.4 256.14 L1704.86 253.86 L1710.31 253.29 L1715.77 252.14 L1721.23 246.43 L1721.53 246.43 L1721.53 348.57 L1721.23 348.57 L1715.77 345.71 L1710.31 346.14 L1704.86 347.14 L1699.4 346.71 L1693.94 349 L1688.48 349.29 L1683.02 347.14 L1677.57 350.43 L1672.11 350 L1666.65 349 L1661.19 348.14 L1655.73 352.86 L1650.28 355.71 L1644.82 355.71 L1639.36 354.29 L1633.9 352.14 L1628.44 348.57 L1622.99 355 L1617.53 355 L1612.07 350 L1606.61 357.14 L1601.15 347.86 L1595.7 346.71 L1590.24 354.71 L1584.78 352.86 L1579.32 360 L1573.86 355.71 L1568.41 357.86 L1562.95 358.57 L1557.49 355 L1552.03 358.57 L1546.57 356.43 L1541.12 362.14 L1535.66 360.71 L1530.2 357.14 L1524.74 358.57 L1519.28 367.57 L1513.83 356.71 L1508.37 371.86 L1502.91 373.57 L1497.45 361.43 L1491.99 377.57 L1486.54 352.14 L1481.08 370.43 L1475.62 364.29 L1470.16 372.14 L1464.7 361.43 L1459.25 357.43 L1453.79 377.43 L1448.33 361.43 L1442.87 362.86 L1437.41 367.57 L1431.96 358.86 L1426.5 368.57 L1421.04 372.57 L1415.58 398.57 L1410.12 365 L1404.67 370 L1399.21 375.71 L1393.75 375 L1388.29 368.57 L1382.83 385.43 L1377.38 383.57 L1371.92 369 L1366.46 365.14Z" fill="#cbe8d2" stroke="#b4dcc0" stroke-width="0.9" stroke-linejoin="round"/>
<path d="M1365.26 339.03 L1368.26 338.62 L1371.26 338.2 L1374.25 337.77 L1377.25 337.34 L1380.25 336.89 L1383.25 336.44 L1386.25 335.98 L1389.24 335.51 L1392.24 335.03 L1395.24 334.55 L1398.24 334.06 L1401.24 333.56 L1404.23 333.05 L1407.23 332.53 L1410.23 332.01 L1413.23 331.48 L1416.23 330.94 L1419.23 330.39 L1422.22 329.84 L1425.22 329.28 L1428.22 328.71 L1431.22 328.14 L1434.22 327.56 L1437.21 326.97 L1440.21 326.37 L1443.21 325.77 L1446.21 325.16 L1449.21 324.55 L1452.2 323.92 L1455.2 323.3 L1458.2 322.66 L1461.2 322.02 L1464.2 321.37 L1467.19 320.72 L1470.19 320.06 L1473.19 319.39 L1476.19 318.72 L1479.19 318.05 L1482.18 317.37 L1485.18 316.68 L1488.18 315.98 L1491.18 315.29 L1494.18 314.58 L1497.17 313.88 L1500.17 313.16 L1503.17 312.45 L1506.17 311.73 L1509.17 311 L1512.17 310.27 L1515.16 309.53 L1518.16 308.8 L1521.16 308.05 L1524.16 307.31 L1527.16 306.56 L1530.15 305.8 L1533.15 305.05 L1536.15 304.29 L1539.15 303.53 L1542.15 302.76 L1545.14 301.99 L1548.14 301.22 L1551.14 300.45 L1554.14 299.68 L1557.14 298.9 L1560.13 298.12 L1563.13 297.34 L1566.13 296.56 L1569.13 295.78 L1572.13 295 L1575.12 294.21 L1578.12 293.43 L1581.12 292.64 L1584.12 291.85 L1587.12 291.07 L1590.12 290.28 L1593.11 289.5 L1596.11 288.71 L1599.11 287.93 L1602.11 287.14 L1605.11 286.36 L1608.1 285.58 L1611.1 284.8 L1614.1 284.02 L1617.1 283.24 L1620.1 282.47 L1623.09 281.69 L1626.09 280.92 L1629.09 280.16 L1632.09 279.39 L1635.09 278.63 L1638.08 277.87 L1641.08 277.12 L1644.08 276.37 L1647.08 275.63 L1650.08 274.88 L1653.07 274.15 L1656.07 273.42 L1659.07 272.69 L1662.07 271.97 L1665.07 271.25 L1668.06 270.54 L1671.06 269.84 L1674.06 269.14 L1677.06 268.45 L1680.06 267.76 L1683.06 267.09 L1686.05 266.42 L1689.05 265.75 L1692.05 265.1 L1695.05 264.45 L1698.05 263.82 L1701.04 263.19 L1704.04 262.57 L1707.04 261.96 L1710.04 261.36 L1713.04 260.77 L1716.03 260.19 L1719.03 259.61 L1722.03 259.05" fill="none" stroke="#2ca44d" stroke-width="5" stroke-dasharray="20.1 19.7" stroke-dashoffset="-1.1"/>
<path d="M1365.26 339.03 L1368.26 338.62" fill="none" stroke="#2ca44d" stroke-width="5"/>
<path d="M1365.26 361.45 L1368.26 361.55 L1371.26 361.64 L1374.25 361.72 L1377.25 361.79 L1380.25 361.85 L1383.25 361.91 L1386.25 361.95 L1389.24 362 L1392.24 362.03 L1395.24 362.05 L1398.24 362.07 L1401.24 362.08 L1404.23 362.09 L1407.23 362.09 L1410.23 362.08 L1413.23 362.06 L1416.23 362.04 L1419.23 362.01 L1422.22 361.97 L1425.22 361.92 L1428.22 361.87 L1431.22 361.82 L1434.22 361.76 L1437.21 361.69 L1440.21 361.61 L1443.21 361.53 L1446.21 361.44 L1449.21 361.35 L1452.2 361.25 L1455.2 361.14 L1458.2 361.03 L1461.2 360.91 L1464.2 360.79 L1467.19 360.66 L1470.19 360.53 L1473.19 360.39 L1476.19 360.25 L1479.19 360.1 L1482.18 359.94 L1485.18 359.78 L1488.18 359.62 L1491.18 359.45 L1494.18 359.27 L1497.17 359.09 L1500.17 358.91 L1503.17 358.72 L1506.17 358.52 L1509.17 358.32 L1512.17 358.12 L1515.16 357.91 L1518.16 357.7 L1521.16 357.48 L1524.16 357.26 L1527.16 357.03 L1530.15 356.8 L1533.15 356.57 L1536.15 356.33 L1539.15 356.09 L1542.15 355.84 L1545.14 355.59 L1548.14 355.34 L1551.14 355.08 L1554.14 354.82 L1557.14 354.55 L1560.13 354.29 L1563.13 354.01 L1566.13 353.74 L1569.13 353.46 L1572.13 353.18 L1575.12 352.89 L1578.12 352.6 L1581.12 352.31 L1584.12 352.01 L1587.12 351.71 L1590.12 351.41 L1593.11 351.11 L1596.11 350.8 L1599.11 350.49 L1602.11 350.17 L1605.11 349.86 L1608.1 349.54 L1611.1 349.22 L1614.1 348.89 L1617.1 348.56 L1620.1 348.23 L1623.09 347.9 L1626.09 347.57 L1629.09 347.23 L1632.09 346.89 L1635.09 346.55 L1638.08 346.2 L1641.08 345.86 L1644.08 345.51 L1647.08 345.16 L1650.08 344.81 L1653.07 344.45 L1656.07 344.09 L1659.07 343.74 L1662.07 343.37 L1665.07 343.01 L1668.06 342.65 L1671.06 342.28 L1674.06 341.91 L1677.06 341.54 L1680.06 341.17 L1683.06 340.8 L1686.05 340.42 L1689.05 340.05 L1692.05 339.67 L1695.05 339.29 L1698.05 338.91 L1701.04 338.53 L1704.04 338.14 L1707.04 337.76 L1710.04 337.37 L1713.04 336.98 L1716.03 336.6 L1719.03 336.21 L1722.03 335.81" fill="none" stroke="#2ca44d" stroke-width="5" stroke-dasharray="20.1 19.7" stroke-dashoffset="-1.1"/>
<path d="M1365.26 361.45 L1368.26 361.55" fill="none" stroke="#2ca44d" stroke-width="5"/>
<path d="M1365.26 350.07 L1368.26 349.93 L1371.26 349.78 L1374.25 349.62 L1377.25 349.46 L1380.25 349.29 L1383.25 349.11 L1386.25 348.92 L1389.24 348.73 L1392.24 348.52 L1395.24 348.31 L1398.24 348.1 L1401.24 347.87 L1404.23 347.64 L1407.23 347.4 L1410.23 347.15 L1413.23 346.89 L1416.23 346.63 L1419.23 346.36 L1422.22 346.09 L1425.22 345.8 L1428.22 345.51 L1431.22 345.21 L1434.22 344.91 L1437.21 344.59 L1440.21 344.27 L1443.21 343.95 L1446.21 343.61 L1449.21 343.27 L1452.2 342.93 L1455.2 342.57 L1458.2 342.21 L1461.2 341.85 L1464.2 341.48 L1467.19 341.1 L1470.19 340.71 L1473.19 340.32 L1476.19 339.92 L1479.19 339.52 L1482.18 339.11 L1485.18 338.7 L1488.18 338.27 L1491.18 337.85 L1494.18 337.42 L1497.17 336.98 L1500.17 336.54 L1503.17 336.09 L1506.17 335.63 L1509.17 335.18 L1512.17 334.71 L1515.16 334.24 L1518.16 333.77 L1521.16 333.29 L1524.16 332.81 L1527.16 332.32 L1530.15 331.83 L1533.15 331.34 L1536.15 330.84 L1539.15 330.33 L1542.15 329.82 L1545.14 329.31 L1548.14 328.8 L1551.14 328.28 L1554.14 327.76 L1557.14 327.23 L1560.13 326.7 L1563.13 326.17 L1566.13 325.63 L1569.13 325.1 L1572.13 324.56 L1575.12 324.01 L1578.12 323.47 L1581.12 322.92 L1584.12 322.37 L1587.12 321.82 L1590.12 321.26 L1593.11 320.71 L1596.11 320.15 L1599.11 319.59 L1602.11 319.03 L1605.11 318.47 L1608.1 317.91 L1611.1 317.35 L1614.1 316.78 L1617.1 316.22 L1620.1 315.66 L1623.09 315.09 L1626.09 314.53 L1629.09 313.96 L1632.09 313.4 L1635.09 312.83 L1638.08 312.27 L1641.08 311.71 L1644.08 311.15 L1647.08 310.58 L1650.08 310.03 L1653.07 309.47 L1656.07 308.91 L1659.07 308.36 L1662.07 307.8 L1665.07 307.25 L1668.06 306.71 L1671.06 306.16 L1674.06 305.62 L1677.06 305.08 L1680.06 304.54 L1683.06 304.01 L1686.05 303.48 L1689.05 302.95 L1692.05 302.43 L1695.05 301.91 L1698.05 301.4 L1701.04 300.89 L1704.04 300.38 L1707.04 299.88 L1710.04 299.39 L1713.04 298.9 L1716.03 298.41 L1719.03 297.94 L1722.03 297.46" fill="none" stroke="#2ca44d" stroke-width="5"/>
<path d="M1393.75 438.45 V11.45" stroke="#000" stroke-width="2.5" stroke-dasharray="25 14.8" fill="none"/>
<path d="M1475.62 438.45 V11.45" stroke="#000" stroke-width="2.5" stroke-dasharray="25 14.8" fill="none"/>
<path d="M1639.36 438.45 V11.45" stroke="#000" stroke-width="2.5" stroke-dasharray="25 14.8" fill="none"/>
<text transform="translate(0 64.05) scale(1 1.03)"><tspan x="1398.92" textLength="58.09" lengthAdjust="spacingAndGlyphs">East</tspan> <tspan x="1466.14" textLength="55.66" lengthAdjust="spacingAndGlyphs">Asia</tspan></text>
</g>
<g id="panel-5">
<rect x="124.55" y="484.45" width="355.89" height="425.59" fill="none" stroke="#000" stroke-width="2.2"/>
<path d="M151.93 484.45 v5.6 M151.93 910.04 v-5.6 M179.3 484.45 v5.6 M179.3 910.04 v-5.6 M206.68 484.45 v5.6 M206.68 910.04 v-5.6 M234.05 484.45 v5.6 M234.05 910.04 v-5.6 M261.43 484.45 v5.6 M261.43 910.04 v-5.6 M288.81 484.45 v5.6 M288.81 910.04 v-5.6 M316.18 484.45 v5.6 M316.18 910.04 v-5.6 M343.56 484.45 v5.6 M343.56 910.04 v-5.6 M370.94 484.45 v5.6 M370.94 910.04 v-5.6 M398.31 484.45 v5.6 M398.31 910.04 v-5.6 M425.69 484.45 v5.6 M425.69 910.04 v-5.6 M453.06 484.45 v5.6 M453.06 910.04 v-5.6 M124.55 555.38 h5.6 M480.44 555.38 h-5.6 M124.55 626.31 h5.6 M480.44 626.31 h-5.6 M124.55 697.25 h5.6 M480.44 697.25 h-5.6 M124.55 768.18 h5.6 M480.44 768.18 h-5.6 M124.55 839.11 h5.6 M480.44 839.11 h-5.6" stroke="#000" stroke-width="1.8" fill="none"/>
<path d="M124.55 811.6 L130.03 811.4 L135.5 811.6 L140.98 815.2 L146.45 798.5 L151.93 783.8 L157.4 801 L162.88 763.8 L168.35 762 L173.83 783.8 L179.3 790.1 L184.78 780.2 L190.25 740 L195.73 731.8 L201.2 770.6 L206.68 771.1 L212.15 764.6 L217.63 773.7 L223.1 762 L228.58 764 L234.05 749.3 L239.53 731 L245.01 726.8 L250.48 725.7 L255.96 715 L261.43 729.7 L266.91 717.1 L272.38 708.6 L277.86 689.9 L283.33 709 L288.81 681.4 L294.28 692.9 L299.76 679.8 L305.23 688.6 L310.71 680.7 L316.18 633.6 L321.66 672.9 L327.13 661.4 L332.61 643.6 L338.08 672.9 L343.56 668.8 L349.03 665.7 L354.51 650.7 L359.98 625.5 L365.46 651.4 L370.94 655.7 L376.41 623.3 L381.89 620.7 L387.36 636.4 L392.84 618.6 L398.31 608.6 L403.79 607.9 L409.26 626.4 L414.74 589.3 L420.21 586.1 L425.69 586.4 L431.16 610.7 L436.64 602.1 L442.11 613.9 L447.59 614.1 L453.06 567.9 L458.54 561 L464.01 573.6 L469.49 556.1 L474.96 555.7 L480.44 574.3 L480.74 574.3 L480.74 724.3 L480.44 724.3 L474.96 747.1 L469.49 751.4 L464.01 740 L458.54 757.1 L453.06 754.7 L447.59 715 L442.11 720 L436.64 737.1 L431.16 733.6 L425.69 764.3 L420.21 769.3 L414.74 771.4 L409.26 740 L403.79 765.4 L398.31 768.6 L392.84 764.3 L387.36 753.6 L381.89 775.4 L376.41 777.9 L370.94 752.1 L365.46 760 L359.98 794.1 L354.51 772.5 L349.03 766.4 L343.56 767.6 L338.08 770.5 L332.61 806 L327.13 794 L321.66 788.7 L316.18 834.3 L310.71 795 L305.23 786.4 L299.76 805.1 L294.28 798.6 L288.81 815.1 L283.33 796 L277.86 818.6 L272.38 803.1 L266.91 802.7 L261.43 796.4 L255.96 816.4 L250.48 813.9 L245.01 814.6 L239.53 812.9 L234.05 804.7 L228.58 794.9 L223.1 801 L217.63 794.4 L212.15 808.9 L206.68 807.1 L201.2 812.1 L195.73 856.2 L190.25 852 L184.78 817.2 L179.3 811.4 L173.83 822.2 L168.35 847.6 L162.88 849.8 L157.4 816.7 L151.93 842 L146.45 829.8 L140.98 817.7 L135.5 821.5 L130.03 821.2 L124.55 820.7Z" fill="#f5cfdc"/>
<path d="M123.35 801.11 L126.36 799.38 L129.36 797.65 L132.37 795.91 L135.38 794.17 L138.39 792.43 L141.39 790.68 L144.4 788.92 L147.41 787.16 L150.42 785.4 L153.42 783.63 L156.43 781.86 L159.44 780.08 L162.45 778.3 L165.45 776.51 L168.46 774.72 L171.47 772.92 L174.48 771.12 L177.48 769.31 L180.49 767.5 L183.5 765.69 L186.51 763.87 L189.51 762.04 L192.52 760.21 L195.53 758.38 L198.54 756.54 L201.54 754.69 L204.55 752.84 L207.56 750.99 L210.57 749.13 L213.57 747.27 L216.58 745.4 L219.59 743.53 L222.6 741.65 L225.6 739.77 L228.61 737.89 L231.62 736 L234.63 734.1 L237.63 732.2 L240.64 730.3 L243.65 728.39 L246.66 726.48 L249.66 724.57 L252.67 722.65 L255.68 720.72 L258.69 718.79 L261.69 716.86 L264.7 714.93 L267.71 712.99 L270.72 711.04 L273.72 709.09 L276.73 707.14 L279.74 705.19 L282.75 703.23 L285.75 701.27 L288.76 699.3 L291.77 697.33 L294.78 695.36 L297.78 693.38 L300.79 691.4 L303.8 689.42 L306.81 687.43 L309.81 685.45 L312.82 683.45 L315.83 681.46 L318.84 679.46 L321.84 677.46 L324.85 675.46 L327.86 673.46 L330.87 671.45 L333.87 669.44 L336.88 667.43 L339.89 665.41 L342.9 663.4 L345.9 661.38 L348.91 659.36 L351.92 657.34 L354.93 655.32 L357.93 653.29 L360.94 651.27 L363.95 649.24 L366.96 647.21 L369.96 645.18 L372.97 643.15 L375.98 641.12 L378.99 639.09 L381.99 637.06 L385 635.02 L388.01 632.99 L391.02 630.96 L394.02 628.92 L397.03 626.89 L400.04 624.86 L403.05 622.83 L406.05 620.79 L409.06 618.76 L412.07 616.73 L415.08 614.7 L418.08 612.67 L421.09 610.64 L424.1 608.62 L427.11 606.59 L430.11 604.57 L433.12 602.55 L436.13 600.53 L439.14 598.51 L442.14 596.49 L445.15 594.48 L448.16 592.47 L451.17 590.46 L454.17 588.46 L457.18 586.45 L460.19 584.45 L463.2 582.46 L466.2 580.47 L469.21 578.48 L472.22 576.49 L475.23 574.51 L478.23 572.54 L481.24 570.57" fill="none" stroke="#c0509f" stroke-width="5" stroke-dasharray="20.1 19.7" stroke-dashoffset="-1.1"/>
<path d="M123.35 801.11 L126.36 799.38" fill="none" stroke="#c0509f" stroke-width="5"/>
<path d="M123.35 839.36 L126.36 839.32 L129.36 839.25 L132.37 839.13 L135.38 838.99 L138.39 838.8 L141.39 838.59 L144.4 838.34 L147.41 838.05 L150.42 837.74 L153.42 837.39 L156.43 837.01 L159.44 836.6 L162.45 836.16 L165.45 835.68 L168.46 835.18 L171.47 834.66 L174.48 834.1 L177.48 833.51 L180.49 832.9 L183.5 832.26 L186.51 831.6 L189.51 830.91 L192.52 830.19 L195.53 829.46 L198.54 828.69 L201.54 827.91 L204.55 827.1 L207.56 826.26 L210.57 825.41 L213.57 824.54 L216.58 823.64 L219.59 822.73 L222.6 821.79 L225.6 820.84 L228.61 819.86 L231.62 818.87 L234.63 817.87 L237.63 816.84 L240.64 815.8 L243.65 814.74 L246.66 813.67 L249.66 812.59 L252.67 811.48 L255.68 810.37 L258.69 809.24 L261.69 808.1 L264.7 806.95 L267.71 805.78 L270.72 804.61 L273.72 803.42 L276.73 802.23 L279.74 801.02 L282.75 799.81 L285.75 798.59 L288.76 797.36 L291.77 796.12 L294.78 794.87 L297.78 793.62 L300.79 792.37 L303.8 791.11 L306.81 789.84 L309.81 788.57 L312.82 787.3 L315.83 786.02 L318.84 784.74 L321.84 783.46 L324.85 782.18 L327.86 780.89 L330.87 779.61 L333.87 778.32 L336.88 777.04 L339.89 775.76 L342.9 774.48 L345.9 773.2 L348.91 771.92 L351.92 770.65 L354.93 769.38 L357.93 768.11 L360.94 766.85 L363.95 765.6 L366.96 764.35 L369.96 763.11 L372.97 761.87 L375.98 760.64 L378.99 759.42 L381.99 758.21 L385 757.01 L388.01 755.81 L391.02 754.63 L394.02 753.46 L397.03 752.3 L400.04 751.15 L403.05 750.01 L406.05 748.88 L409.06 747.77 L412.07 746.67 L415.08 745.58 L418.08 744.51 L421.09 743.46 L424.1 742.42 L427.11 741.4 L430.11 740.39 L433.12 739.4 L436.13 738.43 L439.14 737.47 L442.14 736.54 L445.15 735.62 L448.16 734.73 L451.17 733.85 L454.17 733 L457.18 732.16 L460.19 731.35 L463.2 730.56 L466.2 729.8 L469.21 729.05 L472.22 728.33 L475.23 727.64 L478.23 726.97 L481.24 726.32" fill="none" stroke="#c0509f" stroke-width="5" stroke-dasharray="20.1 19.7" stroke-dashoffset="-1.1"/>
<path d="M123.35 839.36 L126.36 839.32" fill="none" stroke="#c0509f" stroke-width="5"/>
<path d="M123.35 818.57 L126.36 817.73 L129.36 816.87 L132.37 815.99 L135.38 815.09 L138.39 814.18 L141.39 813.24 L144.4 812.29 L147.41 811.32 L150.42 810.34 L153.42 809.33 L156.43 808.31 L159.44 807.27 L162.45 806.21 L165.45 805.13 L168.46 804.04 L171.47 802.93 L174.48 801.81 L177.48 800.66 L180.49 799.5 L183.5 798.33 L186.51 797.14 L189.51 795.93 L192.52 794.71 L195.53 793.47 L198.54 792.21 L201.54 790.95 L204.55 789.66 L207.56 788.36 L210.57 787.05 L213.57 785.72 L216.58 784.38 L219.59 783.02 L222.6 781.66 L225.6 780.27 L228.61 778.88 L231.62 777.47 L234.63 776.05 L237.63 774.62 L240.64 773.17 L243.65 771.71 L246.66 770.24 L249.66 768.76 L252.67 767.27 L255.68 765.77 L258.69 764.26 L261.69 762.74 L264.7 761.2 L267.71 759.66 L270.72 758.11 L273.72 756.55 L276.73 754.98 L279.74 753.4 L282.75 751.82 L285.75 750.23 L288.76 748.63 L291.77 747.02 L294.78 745.4 L297.78 743.78 L300.79 742.16 L303.8 740.53 L306.81 738.89 L309.81 737.25 L312.82 735.6 L315.83 733.95 L318.84 732.29 L321.84 730.63 L324.85 728.97 L327.86 727.31 L330.87 725.64 L333.87 723.97 L336.88 722.3 L339.89 720.63 L342.9 718.96 L345.9 717.29 L348.91 715.62 L351.92 713.94 L354.93 712.27 L357.93 710.6 L360.94 708.94 L363.95 707.27 L366.96 705.61 L369.96 703.95 L372.97 702.29 L375.98 700.64 L378.99 698.99 L381.99 697.35 L385 695.71 L388.01 694.08 L391.02 692.46 L394.02 690.84 L397.03 689.23 L400.04 687.63 L403.05 686.03 L406.05 684.45 L409.06 682.87 L412.07 681.3 L415.08 679.75 L418.08 678.2 L421.09 676.67 L424.1 675.15 L427.11 673.64 L430.11 672.14 L433.12 670.66 L436.13 669.19 L439.14 667.73 L442.14 666.29 L445.15 664.87 L448.16 663.46 L451.17 662.07 L454.17 660.7 L457.18 659.34 L460.19 658 L463.2 656.69 L466.2 655.39 L469.21 654.11 L472.22 652.85 L475.23 651.62 L478.23 650.4 L481.24 649.21" fill="none" stroke="#c0509f" stroke-width="5"/>
<path d="M151.93 910.04 V484.45" stroke="#000" stroke-width="2.5" stroke-dasharray="25 14.8" fill="none"/>
<path d="M234.05 910.04 V484.45" stroke="#000" stroke-width="2.5" stroke-dasharray="25 14.8" fill="none"/>
<path d="M398.31 910.04 V484.45" stroke="#000" stroke-width="2.5" stroke-dasharray="25 14.8" fill="none"/>
<text transform="translate(0 537.05) scale(1 1.03)"><tspan x="157.28" textLength="76.01" lengthAdjust="spacingAndGlyphs">South</tspan> <tspan x="242.14" textLength="105.36" lengthAdjust="spacingAndGlyphs">America</tspan></text>
<text transform="translate(124.15 945.15) scale(1 1.03)" text-anchor="middle">0</text>
<text transform="translate(233.65 945.15) scale(1 1.03)" text-anchor="middle">0.2</text>
<text transform="translate(397.91 945.15) scale(1 1.03)" text-anchor="middle">0.5</text>
<text transform="translate(480.04 945.15) scale(1 1.03)" text-anchor="middle">0.65</text>
<text transform="translate(111.7 494.35) scale(1 1.03)" text-anchor="end">2.5</text>
<text transform="translate(111.7 565.28) scale(1 1.03)" text-anchor="end">2</text>
<text transform="translate(111.7 636.21) scale(1 1.03)" text-anchor="end">1.5</text>
<text transform="translate(111.7 707.14) scale(1 1.03)" text-anchor="end">1</text>
<text transform="translate(111.7 778.08) scale(1 1.03)" text-anchor="end">0.5</text>
<text transform="translate(111.7 849.01) scale(1 1.03)" text-anchor="end">0</text>
<text transform="translate(111.7 919.94) scale(1 1.03)" text-anchor="end">–0.5</text>
</g>
<g id="panel-6">
<rect x="538.97" y="484.45" width="354.49" height="425.59" fill="none" stroke="#000" stroke-width="2.2"/>
<path d="M566.24 484.45 v5.6 M566.24 910.04 v-5.6 M593.51 484.45 v5.6 M593.51 910.04 v-5.6 M620.78 484.45 v5.6 M620.78 910.04 v-5.6 M648.04 484.45 v5.6 M648.04 910.04 v-5.6 M675.31 484.45 v5.6 M675.31 910.04 v-5.6 M702.58 484.45 v5.6 M702.58 910.04 v-5.6 M729.85 484.45 v5.6 M729.85 910.04 v-5.6 M757.12 484.45 v5.6 M757.12 910.04 v-5.6 M784.39 484.45 v5.6 M784.39 910.04 v-5.6 M811.65 484.45 v5.6 M811.65 910.04 v-5.6 M838.92 484.45 v5.6 M838.92 910.04 v-5.6 M866.19 484.45 v5.6 M866.19 910.04 v-5.6 M538.97 555.38 h5.6 M893.46 555.38 h-5.6 M538.97 626.31 h5.6 M893.46 626.31 h-5.6 M538.97 697.25 h5.6 M893.46 697.25 h-5.6 M538.97 768.18 h5.6 M893.46 768.18 h-5.6 M538.97 839.11 h5.6 M893.46 839.11 h-5.6" stroke="#000" stroke-width="1.8" fill="none"/>
<path d="M538.97 781.4 L544.42 782.1 L549.88 802.1 L555.33 802.9 L560.78 797.6 L566.24 797.1 L571.69 797.9 L577.15 795 L582.6 792.1 L588.05 787.9 L593.51 787.1 L598.96 787.4 L604.41 786.9 L609.87 780.7 L615.32 777.1 L620.78 773.6 L626.23 769.3 L631.68 766.7 L637.14 766.4 L642.59 757.9 L648.04 754.3 L653.5 749 L658.95 746 L664.4 744 L669.86 730 L675.31 739.3 L680.77 715 L686.22 717.9 L691.67 715.4 L697.13 715 L702.58 714.3 L708.03 709.3 L713.49 698.7 L718.94 699.6 L724.4 696.4 L729.85 690.7 L735.3 690.4 L740.76 683.1 L746.21 689 L751.66 670 L757.12 681.4 L762.57 674.3 L768.03 672.9 L773.48 654.3 L778.93 662.9 L784.39 655.7 L789.84 656.4 L795.29 637.4 L800.75 649.3 L806.2 639.7 L811.65 644 L817.11 640 L822.56 636 L828.02 633.1 L833.47 635 L838.92 633.6 L844.38 620.5 L849.83 622 L855.28 616.5 L860.74 619 L866.19 606.7 L871.65 614 L877.1 583.6 L882.55 609 L888.01 583.2 L893.46 585 L893.76 585 L893.76 733.6 L893.46 733.6 L888.01 740 L882.55 719.3 L877.1 749.3 L871.65 723.6 L866.19 736 L860.74 728.6 L855.28 735.7 L849.83 734.3 L844.38 745.4 L838.92 736 L833.47 739.3 L828.02 747.1 L822.56 742.1 L817.11 748.6 L811.65 751.4 L806.2 762.6 L800.75 759 L795.29 775.4 L789.84 762.6 L784.39 768.6 L778.93 766 L773.48 781 L768.03 768.3 L762.57 772.6 L757.12 770.4 L751.66 787.7 L746.21 772.5 L740.76 785.4 L735.3 784 L729.85 789.3 L724.4 789.6 L718.94 792.1 L713.49 797.9 L708.03 793.1 L702.58 793.1 L697.13 797.5 L691.67 802.5 L686.22 806 L680.77 813.7 L675.31 796 L669.86 809.3 L664.4 800.7 L658.95 802 L653.5 805.2 L648.04 803.2 L642.59 807.1 L637.14 803.3 L631.68 805.7 L626.23 807.9 L620.78 810 L615.32 811.4 L609.87 811.4 L604.41 810 L598.96 812.9 L593.51 815 L588.05 816.4 L582.6 818.6 L577.15 820 L571.69 822.1 L566.24 825 L560.78 829.6 L555.33 828.6 L549.88 831.4 L544.42 852.1 L538.97 857.1Z" fill="#fbead1" stroke="#f8dfc0" stroke-width="0.9" stroke-linejoin="round"/>
<path d="M537.77 811.09 L540.77 809.95 L543.76 808.79 L546.76 807.61 L549.75 806.4 L552.75 805.18 L555.74 803.93 L558.74 802.66 L561.74 801.37 L564.73 800.07 L567.73 798.74 L570.72 797.39 L573.72 796.02 L576.71 794.63 L579.71 793.23 L582.71 791.8 L585.7 790.36 L588.7 788.9 L591.69 787.42 L594.69 785.93 L597.68 784.41 L600.68 782.88 L603.68 781.33 L606.67 779.77 L609.67 778.18 L612.66 776.59 L615.66 774.97 L618.65 773.34 L621.65 771.7 L624.65 770.04 L627.64 768.36 L630.64 766.67 L633.63 764.96 L636.63 763.24 L639.62 761.51 L642.62 759.76 L645.62 758 L648.61 756.23 L651.61 754.44 L654.6 752.64 L657.6 750.83 L660.59 749 L663.59 747.16 L666.59 745.32 L669.58 743.45 L672.58 741.58 L675.57 739.7 L678.57 737.8 L681.56 735.9 L684.56 733.98 L687.56 732.06 L690.55 730.12 L693.55 728.18 L696.54 726.22 L699.54 724.26 L702.53 722.28 L705.53 720.3 L708.53 718.31 L711.52 716.31 L714.52 714.31 L717.51 712.29 L720.51 710.27 L723.5 708.24 L726.5 706.2 L729.5 704.16 L732.49 702.11 L735.49 700.05 L738.48 697.99 L741.48 695.92 L744.47 693.85 L747.47 691.77 L750.47 689.69 L753.46 687.6 L756.46 685.5 L759.45 683.4 L762.45 681.3 L765.44 679.2 L768.44 677.09 L771.44 674.97 L774.43 672.85 L777.43 670.73 L780.42 668.61 L783.42 666.49 L786.41 664.36 L789.41 662.23 L792.41 660.1 L795.4 657.97 L798.4 655.83 L801.39 653.7 L804.39 651.56 L807.38 649.42 L810.38 647.29 L813.38 645.15 L816.37 643.01 L819.37 640.88 L822.36 638.74 L825.36 636.6 L828.35 634.47 L831.35 632.34 L834.35 630.21 L837.34 628.08 L840.34 625.95 L843.33 623.82 L846.33 621.7 L849.32 619.58 L852.32 617.46 L855.32 615.35 L858.31 613.24 L861.31 611.13 L864.3 609.03 L867.3 606.93 L870.29 604.83 L873.29 602.74 L876.29 600.66 L879.28 598.58 L882.28 596.5 L885.27 594.43 L888.27 592.37 L891.26 590.31 L894.26 588.26" fill="none" stroke="#eeaa3c" stroke-width="5" stroke-dasharray="20.1 19.7" stroke-dashoffset="-1.1"/>
<path d="M537.77 811.09 L540.77 809.95" fill="none" stroke="#eeaa3c" stroke-width="5"/>
<path d="M537.77 827.28 L540.77 826.9 L543.76 826.5 L546.76 826.08 L549.75 825.65 L552.75 825.19 L555.74 824.71 L558.74 824.21 L561.74 823.7 L564.73 823.17 L567.73 822.62 L570.72 822.05 L573.72 821.46 L576.71 820.86 L579.71 820.24 L582.71 819.61 L585.7 818.96 L588.7 818.3 L591.69 817.62 L594.69 816.92 L597.68 816.21 L600.68 815.49 L603.68 814.76 L606.67 814.01 L609.67 813.25 L612.66 812.47 L615.66 811.68 L618.65 810.89 L621.65 810.08 L624.65 809.26 L627.64 808.42 L630.64 807.58 L633.63 806.73 L636.63 805.87 L639.62 805 L642.62 804.12 L645.62 803.23 L648.61 802.33 L651.61 801.42 L654.6 800.51 L657.6 799.59 L660.59 798.66 L663.59 797.72 L666.59 796.78 L669.58 795.84 L672.58 794.88 L675.57 793.92 L678.57 792.96 L681.56 791.99 L684.56 791.02 L687.56 790.04 L690.55 789.06 L693.55 788.07 L696.54 787.08 L699.54 786.09 L702.53 785.1 L705.53 784.1 L708.53 783.11 L711.52 782.11 L714.52 781.1 L717.51 780.1 L720.51 779.1 L723.5 778.1 L726.5 777.09 L729.5 776.09 L732.49 775.09 L735.49 774.09 L738.48 773.09 L741.48 772.09 L744.47 771.09 L747.47 770.1 L750.47 769.1 L753.46 768.12 L756.46 767.13 L759.45 766.15 L762.45 765.17 L765.44 764.19 L768.44 763.22 L771.44 762.25 L774.43 761.29 L777.43 760.33 L780.42 759.38 L783.42 758.44 L786.41 757.5 L789.41 756.56 L792.41 755.64 L795.4 754.72 L798.4 753.81 L801.39 752.9 L804.39 752 L807.38 751.12 L810.38 750.23 L813.38 749.36 L816.37 748.5 L819.37 747.65 L822.36 746.8 L825.36 745.97 L828.35 745.15 L831.35 744.33 L834.35 743.53 L837.34 742.74 L840.34 741.96 L843.33 741.19 L846.33 740.43 L849.32 739.69 L852.32 738.95 L855.32 738.24 L858.31 737.53 L861.31 736.84 L864.3 736.16 L867.3 735.49 L870.29 734.84 L873.29 734.2 L876.29 733.58 L879.28 732.97 L882.28 732.38 L885.27 731.8 L888.27 731.24 L891.26 730.69 L894.26 730.16" fill="none" stroke="#eeaa3c" stroke-width="5" stroke-dasharray="20.1 19.7" stroke-dashoffset="-1.1"/>
<path d="M537.77 827.28 L540.77 826.9" fill="none" stroke="#eeaa3c" stroke-width="5"/>
<path d="M537.77 818.88 L540.77 818.1 L543.76 817.31 L546.76 816.5 L549.75 815.67 L552.75 814.82 L555.74 813.96 L558.74 813.08 L561.74 812.19 L564.73 811.27 L567.73 810.34 L570.72 809.4 L573.72 808.44 L576.71 807.46 L579.71 806.47 L582.71 805.46 L585.7 804.43 L588.7 803.39 L591.69 802.34 L594.69 801.26 L597.68 800.18 L600.68 799.08 L603.68 797.96 L606.67 796.83 L609.67 795.69 L612.66 794.53 L615.66 793.36 L618.65 792.17 L621.65 790.98 L624.65 789.76 L627.64 788.54 L630.64 787.3 L633.63 786.05 L636.63 784.79 L639.62 783.51 L642.62 782.22 L645.62 780.92 L648.61 779.61 L651.61 778.29 L654.6 776.95 L657.6 775.61 L660.59 774.25 L663.59 772.89 L666.59 771.51 L669.58 770.13 L672.58 768.73 L675.57 767.32 L678.57 765.91 L681.56 764.49 L684.56 763.05 L687.56 761.61 L690.55 760.16 L693.55 758.71 L696.54 757.24 L699.54 755.77 L702.53 754.29 L705.53 752.8 L708.53 751.31 L711.52 749.81 L714.52 748.3 L717.51 746.79 L720.51 745.28 L723.5 743.75 L726.5 742.23 L729.5 740.7 L732.49 739.16 L735.49 737.62 L738.48 736.08 L741.48 734.53 L744.47 732.98 L747.47 731.43 L750.47 729.87 L753.46 728.32 L756.46 726.76 L759.45 725.2 L762.45 723.64 L765.44 722.07 L768.44 720.51 L771.44 718.95 L774.43 717.39 L777.43 715.82 L780.42 714.26 L783.42 712.7 L786.41 711.15 L789.41 709.59 L792.41 708.04 L795.4 706.49 L798.4 704.94 L801.39 703.4 L804.39 701.86 L807.38 700.32 L810.38 698.79 L813.38 697.26 L816.37 695.74 L819.37 694.23 L822.36 692.72 L825.36 691.21 L828.35 689.72 L831.35 688.23 L834.35 686.75 L837.34 685.28 L840.34 683.81 L843.33 682.36 L846.33 680.91 L849.32 679.48 L852.32 678.05 L855.32 676.64 L858.31 675.24 L861.31 673.84 L864.3 672.46 L867.3 671.1 L870.29 669.74 L873.29 668.4 L876.29 667.07 L879.28 665.76 L882.28 664.46 L885.27 663.18 L888.27 661.91 L891.26 660.66 L894.26 659.42" fill="none" stroke="#eeaa3c" stroke-width="5"/>
<path d="M566.24 910.04 V484.45" stroke="#000" stroke-width="2.5" stroke-dasharray="25 14.8" fill="none"/>
<path d="M648.04 910.04 V484.45" stroke="#000" stroke-width="2.5" stroke-dasharray="25 14.8" fill="none"/>
<path d="M811.65 910.04 V484.45" stroke="#000" stroke-width="2.5" stroke-dasharray="25 14.8" fill="none"/>
<text transform="translate(0 537.05) scale(1 1.03)"><tspan x="571.94" textLength="73.56" lengthAdjust="spacingAndGlyphs">Africa</tspan></text>
<text transform="translate(538.57 945.15) scale(1 1.03)" text-anchor="middle">0</text>
<text transform="translate(647.64 945.15) scale(1 1.03)" text-anchor="middle">0.2</text>
<text transform="translate(811.25 945.15) scale(1 1.03)" text-anchor="middle">0.5</text>
<text transform="translate(893.06 945.15) scale(1 1.03)" text-anchor="middle">0.65</text>
</g>
<g id="panel-7">
<rect x="953.28" y="484.45" width="354.69" height="425.59" fill="none" stroke="#000" stroke-width="2.2"/>
<path d="M980.56 484.45 v5.6 M980.56 910.04 v-5.6 M1007.85 484.45 v5.6 M1007.85 910.04 v-5.6 M1035.13 484.45 v5.6 M1035.13 910.04 v-5.6 M1062.42 484.45 v5.6 M1062.42 910.04 v-5.6 M1089.7 484.45 v5.6 M1089.7 910.04 v-5.6 M1116.98 484.45 v5.6 M1116.98 910.04 v-5.6 M1144.27 484.45 v5.6 M1144.27 910.04 v-5.6 M1171.55 484.45 v5.6 M1171.55 910.04 v-5.6 M1198.83 484.45 v5.6 M1198.83 910.04 v-5.6 M1226.12 484.45 v5.6 M1226.12 910.04 v-5.6 M1253.4 484.45 v5.6 M1253.4 910.04 v-5.6 M1280.69 484.45 v5.6 M1280.69 910.04 v-5.6 M953.28 555.38 h5.6 M1307.97 555.38 h-5.6 M953.28 626.31 h5.6 M1307.97 626.31 h-5.6 M953.28 697.25 h5.6 M1307.97 697.25 h-5.6 M953.28 768.18 h5.6 M1307.97 768.18 h-5.6 M953.28 839.11 h5.6 M1307.97 839.11 h-5.6" stroke="#000" stroke-width="1.8" fill="none"/>
<path d="M953.28 809.4 L958.74 803.5 L964.19 805.5 L969.65 798.1 L975.11 790.5 L980.56 796 L986.02 794.2 L991.48 791.8 L996.93 790.3 L1002.39 784 L1007.85 785.5 L1013.3 787 L1018.76 777.5 L1024.22 785.8 L1029.67 784 L1035.13 782.6 L1040.59 776.4 L1046.05 772.9 L1051.5 777.9 L1056.96 755.4 L1062.42 767 L1067.87 748.8 L1073.33 748.4 L1078.79 756.4 L1084.24 765.7 L1089.7 752.1 L1095.16 746.2 L1100.61 744.6 L1106.07 742.9 L1111.53 730.7 L1116.98 744.3 L1122.44 733 L1127.9 732.6 L1133.35 734.6 L1138.81 737.9 L1144.27 740.7 L1149.72 742.9 L1155.18 737.9 L1160.64 720.7 L1166.09 733.8 L1171.55 726.8 L1177.01 720 L1182.46 731.4 L1187.92 716.4 L1193.38 713.6 L1198.83 700.7 L1204.29 698.6 L1209.75 696.4 L1215.2 715 L1220.66 689.3 L1226.12 686.4 L1231.58 707.1 L1237.03 701.9 L1242.49 701.4 L1247.95 669.3 L1253.4 634.3 L1258.86 638.6 L1264.32 682.9 L1269.77 644.3 L1275.23 669.3 L1280.69 653.6 L1286.14 633.1 L1291.6 655 L1297.06 643.6 L1302.51 616.4 L1307.97 602.9 L1308.27 602.9 L1308.27 813.6 L1307.97 813.6 L1302.51 802.9 L1297.06 780 L1291.6 774.6 L1286.14 800.7 L1280.69 785.7 L1275.23 772.9 L1269.77 801.7 L1264.32 767.1 L1258.86 815 L1253.4 823.1 L1247.95 790 L1242.49 764.7 L1237.03 767.1 L1231.58 766.1 L1226.12 787.1 L1220.66 791.4 L1215.2 770.3 L1209.75 791.4 L1204.29 797.1 L1198.83 795.7 L1193.38 788.3 L1187.92 787.4 L1182.46 776.4 L1177.01 792.9 L1171.55 789.3 L1166.09 785.7 L1160.64 801.7 L1155.18 788.6 L1149.72 786.9 L1144.27 794.3 L1138.81 800.7 L1133.35 807.1 L1127.9 812.1 L1122.44 815 L1116.98 806.4 L1111.53 823.6 L1106.07 812.1 L1100.61 816 L1095.16 817.4 L1089.7 815 L1084.24 804.3 L1078.79 816.4 L1073.33 827.1 L1067.87 829.3 L1062.42 812.9 L1056.96 828.6 L1051.5 808.6 L1046.05 815.7 L1040.59 815.4 L1035.13 811.1 L1029.67 812.5 L1024.22 813.3 L1018.76 823.3 L1013.3 815.3 L1007.85 820.4 L1002.39 821.3 L996.93 817.6 L991.48 818.5 L986.02 817.6 L980.56 817.6 L975.11 824.5 L969.65 819.7 L964.19 814 L958.74 816.4 L953.28 811Z" fill="#c6dcd2" stroke="#aecdbf" stroke-width="0.9" stroke-linejoin="round"/>
<path d="M952.08 798.65 L955.08 797.78 L958.07 796.9 L961.07 796.01 L964.07 795.11 L967.07 794.2 L970.06 793.29 L973.06 792.37 L976.06 791.44 L979.06 790.5 L982.05 789.55 L985.05 788.6 L988.05 787.64 L991.05 786.66 L994.04 785.68 L997.04 784.7 L1000.04 783.7 L1003.04 782.7 L1006.03 781.68 L1009.03 780.66 L1012.03 779.63 L1015.03 778.59 L1018.02 777.55 L1021.02 776.5 L1024.02 775.43 L1027.01 774.36 L1030.01 773.28 L1033.01 772.2 L1036.01 771.1 L1039 770 L1042 768.89 L1045 767.77 L1048 766.64 L1050.99 765.51 L1053.99 764.36 L1056.99 763.21 L1059.99 762.05 L1062.98 760.89 L1065.98 759.71 L1068.98 758.53 L1071.98 757.33 L1074.97 756.13 L1077.97 754.93 L1080.97 753.71 L1083.97 752.49 L1086.96 751.26 L1089.96 750.02 L1092.96 748.77 L1095.95 747.51 L1098.95 746.25 L1101.95 744.98 L1104.95 743.7 L1107.94 742.41 L1110.94 741.12 L1113.94 739.82 L1116.94 738.51 L1119.93 737.19 L1122.93 735.86 L1125.93 734.53 L1128.93 733.19 L1131.92 731.84 L1134.92 730.49 L1137.92 729.12 L1140.92 727.75 L1143.91 726.37 L1146.91 724.99 L1149.91 723.59 L1152.91 722.19 L1155.9 720.79 L1158.9 719.37 L1161.9 717.95 L1164.9 716.52 L1167.89 715.08 L1170.89 713.63 L1173.89 712.18 L1176.88 710.72 L1179.88 709.26 L1182.88 707.78 L1185.88 706.3 L1188.87 704.81 L1191.87 703.32 L1194.87 701.81 L1197.87 700.31 L1200.86 698.79 L1203.86 697.27 L1206.86 695.74 L1209.86 694.2 L1212.85 692.66 L1215.85 691.11 L1218.85 689.55 L1221.85 687.98 L1224.84 686.41 L1227.84 684.84 L1230.84 683.25 L1233.84 681.66 L1236.83 680.07 L1239.83 678.46 L1242.83 676.85 L1245.82 675.24 L1248.82 673.61 L1251.82 671.98 L1254.82 670.35 L1257.81 668.71 L1260.81 667.06 L1263.81 665.41 L1266.81 663.75 L1269.8 662.08 L1272.8 660.41 L1275.8 658.73 L1278.8 657.05 L1281.79 655.36 L1284.79 653.66 L1287.79 651.96 L1290.79 650.25 L1293.78 648.54 L1296.78 646.82 L1299.78 645.1 L1302.78 643.37 L1305.77 641.63 L1308.77 639.89" fill="none" stroke="#1d7a4c" stroke-width="5" stroke-dasharray="20.1 19.7" stroke-dashoffset="-1.1"/>
<path d="M952.08 798.65 L955.08 797.78" fill="none" stroke="#1d7a4c" stroke-width="5"/>
<path d="M952.08 822.04 L955.08 822.29 L958.07 822.53 L961.07 822.75 L964.07 822.94 L967.07 823.12 L970.06 823.28 L973.06 823.42 L976.06 823.54 L979.06 823.64 L982.05 823.72 L985.05 823.79 L988.05 823.83 L991.05 823.86 L994.04 823.88 L997.04 823.87 L1000.04 823.85 L1003.04 823.81 L1006.03 823.76 L1009.03 823.69 L1012.03 823.61 L1015.03 823.5 L1018.02 823.39 L1021.02 823.26 L1024.02 823.11 L1027.01 822.95 L1030.01 822.78 L1033.01 822.59 L1036.01 822.38 L1039 822.17 L1042 821.94 L1045 821.69 L1048 821.44 L1050.99 821.17 L1053.99 820.89 L1056.99 820.6 L1059.99 820.29 L1062.98 819.98 L1065.98 819.65 L1068.98 819.31 L1071.98 818.96 L1074.97 818.6 L1077.97 818.23 L1080.97 817.85 L1083.97 817.46 L1086.96 817.05 L1089.96 816.64 L1092.96 816.22 L1095.95 815.8 L1098.95 815.36 L1101.95 814.91 L1104.95 814.46 L1107.94 814 L1110.94 813.53 L1113.94 813.05 L1116.94 812.56 L1119.93 812.07 L1122.93 811.57 L1125.93 811.07 L1128.93 810.55 L1131.92 810.04 L1134.92 809.51 L1137.92 808.98 L1140.92 808.45 L1143.91 807.9 L1146.91 807.36 L1149.91 806.81 L1152.91 806.25 L1155.9 805.69 L1158.9 805.13 L1161.9 804.56 L1164.9 803.99 L1167.89 803.42 L1170.89 802.84 L1173.89 802.26 L1176.88 801.68 L1179.88 801.09 L1182.88 800.51 L1185.88 799.92 L1188.87 799.32 L1191.87 798.73 L1194.87 798.14 L1197.87 797.54 L1200.86 796.95 L1203.86 796.35 L1206.86 795.75 L1209.86 795.16 L1212.85 794.56 L1215.85 793.96 L1218.85 793.37 L1221.85 792.77 L1224.84 792.18 L1227.84 791.58 L1230.84 790.99 L1233.84 790.4 L1236.83 789.82 L1239.83 789.23 L1242.83 788.65 L1245.82 788.07 L1248.82 787.49 L1251.82 786.91 L1254.82 786.34 L1257.81 785.77 L1260.81 785.21 L1263.81 784.65 L1266.81 784.09 L1269.8 783.54 L1272.8 782.99 L1275.8 782.45 L1278.8 781.91 L1281.79 781.38 L1284.79 780.86 L1287.79 780.33 L1290.79 779.82 L1293.78 779.31 L1296.78 778.81 L1299.78 778.31 L1302.78 777.83 L1305.77 777.34 L1308.77 776.87" fill="none" stroke="#1d7a4c" stroke-width="5" stroke-dasharray="20.1 19.7" stroke-dashoffset="-1.1"/>
<path d="M952.08 822.04 L955.08 822.29" fill="none" stroke="#1d7a4c" stroke-width="5"/>
<path d="M952.08 810.46 L955.08 810.08 L958.07 809.7 L961.07 809.31 L964.07 808.92 L967.07 808.52 L970.06 808.11 L973.06 807.69 L976.06 807.26 L979.06 806.83 L982.05 806.38 L985.05 805.93 L988.05 805.47 L991.05 805 L994.04 804.52 L997.04 804.04 L1000.04 803.54 L1003.04 803.03 L1006.03 802.52 L1009.03 801.99 L1012.03 801.46 L1015.03 800.91 L1018.02 800.36 L1021.02 799.79 L1024.02 799.22 L1027.01 798.63 L1030.01 798.04 L1033.01 797.43 L1036.01 796.81 L1039 796.19 L1042 795.55 L1045 794.9 L1048 794.25 L1050.99 793.58 L1053.99 792.9 L1056.99 792.21 L1059.99 791.51 L1062.98 790.8 L1065.98 790.08 L1068.98 789.35 L1071.98 788.61 L1074.97 787.86 L1077.97 787.09 L1080.97 786.32 L1083.97 785.54 L1086.96 784.74 L1089.96 783.94 L1092.96 783.13 L1095.95 782.3 L1098.95 781.47 L1101.95 780.63 L1104.95 779.77 L1107.94 778.91 L1110.94 778.04 L1113.94 777.16 L1116.94 776.27 L1119.93 775.36 L1122.93 774.45 L1125.93 773.54 L1128.93 772.61 L1131.92 771.67 L1134.92 770.72 L1137.92 769.77 L1140.92 768.81 L1143.91 767.84 L1146.91 766.86 L1149.91 765.87 L1152.91 764.88 L1155.9 763.88 L1158.9 762.87 L1161.9 761.85 L1164.9 760.83 L1167.89 759.8 L1170.89 758.77 L1173.89 757.72 L1176.88 756.68 L1179.88 755.62 L1182.88 754.56 L1185.88 753.5 L1188.87 752.43 L1191.87 751.36 L1194.87 750.28 L1197.87 749.19 L1200.86 748.11 L1203.86 747.02 L1206.86 745.92 L1209.86 744.83 L1212.85 743.73 L1215.85 742.62 L1218.85 741.52 L1221.85 740.41 L1224.84 739.31 L1227.84 738.2 L1230.84 737.09 L1233.84 735.98 L1236.83 734.87 L1239.83 733.76 L1242.83 732.65 L1245.82 731.54 L1248.82 730.43 L1251.82 729.32 L1254.82 728.22 L1257.81 727.12 L1260.81 726.02 L1263.81 724.93 L1266.81 723.83 L1269.8 722.75 L1272.8 721.66 L1275.8 720.58 L1278.8 719.51 L1281.79 718.44 L1284.79 717.38 L1287.79 716.33 L1290.79 715.28 L1293.78 714.24 L1296.78 713.21 L1299.78 712.19 L1302.78 711.17 L1305.77 710.17 L1308.77 709.17" fill="none" stroke="#1d7a4c" stroke-width="5"/>
<path d="M980.56 910.04 V484.45" stroke="#000" stroke-width="2.5" stroke-dasharray="25 14.8" fill="none"/>
<path d="M1062.42 910.04 V484.45" stroke="#000" stroke-width="2.5" stroke-dasharray="25 14.8" fill="none"/>
<path d="M1226.12 910.04 V484.45" stroke="#000" stroke-width="2.5" stroke-dasharray="25 14.8" fill="none"/>
<text transform="translate(0 537.05) scale(1 1.03)"><tspan x="985.88" textLength="75.8" lengthAdjust="spacingAndGlyphs">South</tspan> <tspan x="1070.74" textLength="55.76" lengthAdjust="spacingAndGlyphs">Asia</tspan></text>
<text transform="translate(952.88 945.15) scale(1 1.03)" text-anchor="middle">0</text>
<text transform="translate(1062.02 945.15) scale(1 1.03)" text-anchor="middle">0.2</text>
<text transform="translate(1225.72 945.15) scale(1 1.03)" text-anchor="middle">0.5</text>
<text transform="translate(1307.57 945.15) scale(1 1.03)" text-anchor="middle">0.65</text>
</g>
<g id="panel-8">
<rect x="1366.46" y="484.45" width="354.77" height="425.59" fill="none" stroke="#000" stroke-width="2.2"/>
<path d="M1393.75 484.45 v5.6 M1393.75 910.04 v-5.6 M1421.04 484.45 v5.6 M1421.04 910.04 v-5.6 M1448.33 484.45 v5.6 M1448.33 910.04 v-5.6 M1475.62 484.45 v5.6 M1475.62 910.04 v-5.6 M1502.91 484.45 v5.6 M1502.91 910.04 v-5.6 M1530.2 484.45 v5.6 M1530.2 910.04 v-5.6 M1557.49 484.45 v5.6 M1557.49 910.04 v-5.6 M1584.78 484.45 v5.6 M1584.78 910.04 v-5.6 M1612.07 484.45 v5.6 M1612.07 910.04 v-5.6 M1639.36 484.45 v5.6 M1639.36 910.04 v-5.6 M1666.65 484.45 v5.6 M1666.65 910.04 v-5.6 M1693.94 484.45 v5.6 M1693.94 910.04 v-5.6 M1366.46 555.38 h5.6 M1721.23 555.38 h-5.6 M1366.46 626.31 h5.6 M1721.23 626.31 h-5.6 M1366.46 697.25 h5.6 M1721.23 697.25 h-5.6 M1366.46 768.18 h5.6 M1721.23 768.18 h-5.6 M1366.46 839.11 h5.6 M1721.23 839.11 h-5.6" stroke="#000" stroke-width="1.8" fill="none"/>
<path d="M1366.46 800.3 L1371.92 800.4 L1377.38 800.7 L1382.83 800.9 L1388.29 800.9 L1393.75 800.7 L1399.21 799.6 L1404.67 797.9 L1410.12 796.9 L1415.58 795.4 L1421.04 793.6 L1426.5 791.7 L1431.96 790 L1437.41 788.3 L1442.87 785.7 L1448.33 782.1 L1453.79 782.4 L1459.25 777.9 L1464.7 774.6 L1470.16 772.9 L1475.62 770.8 L1481.08 768.3 L1486.54 767.1 L1491.99 760.7 L1497.45 760 L1502.91 755.7 L1508.37 750.7 L1513.83 754.2 L1519.28 750 L1524.74 727.1 L1530.2 744.6 L1535.66 742.1 L1541.12 735.5 L1546.57 729.8 L1552.03 729.3 L1557.49 723.6 L1562.95 721.5 L1568.41 710.5 L1573.86 714.4 L1579.32 714.1 L1584.78 698.5 L1590.24 692.9 L1595.7 690 L1601.15 675 L1606.61 679.2 L1612.07 672.7 L1617.53 670.9 L1622.99 669.3 L1628.44 672.3 L1633.9 606.9 L1639.36 658.6 L1644.82 648.6 L1650.28 640.4 L1655.73 647.1 L1661.19 645 L1666.65 600 L1672.11 598.9 L1677.57 570.7 L1683.02 566.4 L1688.48 545 L1693.94 590 L1699.4 577.1 L1704.86 554.3 L1710.31 552.1 L1715.77 583.6 L1721.23 558.6 L1721.53 558.6 L1721.53 698.6 L1721.23 698.6 L1715.77 683.6 L1710.31 723.6 L1704.86 728.6 L1699.4 714.3 L1693.94 710.7 L1688.48 763.6 L1683.02 750 L1677.57 753.1 L1672.11 732.9 L1666.65 740.3 L1661.19 704 L1655.73 708.9 L1650.28 724.3 L1644.82 721.1 L1639.36 720 L1633.9 781.4 L1628.44 723.1 L1622.99 734.6 L1617.53 740.7 L1612.07 746 L1606.61 747.5 L1601.15 756.4 L1595.7 748.9 L1590.24 756.4 L1584.78 758.3 L1579.32 749.4 L1573.86 757.1 L1568.41 767.4 L1562.95 763.8 L1557.49 768.7 L1552.03 768.9 L1546.57 774 L1541.12 774.6 L1535.66 775 L1530.2 778.1 L1524.74 801.4 L1519.28 785.9 L1513.83 785.9 L1508.37 794 L1502.91 794.3 L1497.45 795 L1491.99 799.3 L1486.54 797.4 L1481.08 800.7 L1475.62 803.6 L1470.16 805 L1464.7 806.4 L1459.25 806.1 L1453.79 806.4 L1448.33 810 L1442.87 809.3 L1437.41 809.3 L1431.96 810 L1426.5 810.3 L1421.04 810.7 L1415.58 810 L1410.12 810 L1404.67 810.4 L1399.21 809.7 L1393.75 809.3 L1388.29 809 L1382.83 808.9 L1377.38 808.9 L1371.92 808.9 L1366.46 808.9Z" fill="#ccd3e6" stroke="#b3bbd6" stroke-width="0.9" stroke-linejoin="round"/>
<path d="M1365.26 798.28 L1368.26 797.76 L1371.26 797.2 L1374.25 796.61 L1377.25 795.98 L1380.25 795.32 L1383.25 794.63 L1386.25 793.91 L1389.24 793.16 L1392.24 792.38 L1395.24 791.57 L1398.24 790.73 L1401.24 789.86 L1404.23 788.96 L1407.23 788.04 L1410.23 787.08 L1413.23 786.1 L1416.23 785.1 L1419.23 784.06 L1422.22 783.01 L1425.22 781.92 L1428.22 780.81 L1431.22 779.67 L1434.22 778.51 L1437.21 777.33 L1440.21 776.12 L1443.21 774.88 L1446.21 773.62 L1449.21 772.34 L1452.2 771.03 L1455.2 769.7 L1458.2 768.35 L1461.2 766.97 L1464.2 765.57 L1467.19 764.15 L1470.19 762.7 L1473.19 761.23 L1476.19 759.74 L1479.19 758.22 L1482.18 756.68 L1485.18 755.12 L1488.18 753.54 L1491.18 751.93 L1494.18 750.3 L1497.17 748.65 L1500.17 746.98 L1503.17 745.28 L1506.17 743.56 L1509.17 741.82 L1512.17 740.06 L1515.16 738.27 L1518.16 736.46 L1521.16 734.63 L1524.16 732.78 L1527.16 730.9 L1530.15 729.01 L1533.15 727.08 L1536.15 725.14 L1539.15 723.17 L1542.15 721.19 L1545.14 719.17 L1548.14 717.14 L1551.14 715.08 L1554.14 713 L1557.14 710.9 L1560.13 708.78 L1563.13 706.63 L1566.13 704.46 L1569.13 702.27 L1572.13 700.05 L1575.12 697.81 L1578.12 695.55 L1581.12 693.27 L1584.12 690.96 L1587.12 688.64 L1590.12 686.28 L1593.11 683.91 L1596.11 681.52 L1599.11 679.1 L1602.11 676.66 L1605.11 674.19 L1608.1 671.71 L1611.1 669.2 L1614.1 666.67 L1617.1 664.12 L1620.1 661.55 L1623.09 658.96 L1626.09 656.34 L1629.09 653.71 L1632.09 651.05 L1635.09 648.37 L1638.08 645.67 L1641.08 642.95 L1644.08 640.22 L1647.08 637.46 L1650.08 634.68 L1653.07 631.88 L1656.07 629.06 L1659.07 626.23 L1662.07 623.37 L1665.07 620.5 L1668.06 617.61 L1671.06 614.71 L1674.06 611.78 L1677.06 608.84 L1680.06 605.89 L1683.06 602.91 L1686.05 599.93 L1689.05 596.93 L1692.05 593.91 L1695.05 590.88 L1698.05 587.84 L1701.04 584.79 L1704.04 581.72 L1707.04 578.65 L1710.04 575.56 L1713.04 572.46 L1716.03 569.36 L1719.03 566.24 L1722.03 563.12" fill="none" stroke="#33508f" stroke-width="5" stroke-dasharray="20.1 19.7" stroke-dashoffset="-1.1"/>
<path d="M1365.26 798.28 L1368.26 797.76" fill="none" stroke="#33508f" stroke-width="5"/>
<path d="M1365.26 809.73 L1368.26 810.94 L1371.26 812.08 L1374.25 813.14 L1377.25 814.13 L1380.25 815.05 L1383.25 815.91 L1386.25 816.7 L1389.24 817.42 L1392.24 818.07 L1395.24 818.66 L1398.24 819.19 L1401.24 819.65 L1404.23 820.05 L1407.23 820.39 L1410.23 820.67 L1413.23 820.89 L1416.23 821.06 L1419.23 821.16 L1422.22 821.21 L1425.22 821.21 L1428.22 821.15 L1431.22 821.04 L1434.22 820.87 L1437.21 820.66 L1440.21 820.39 L1443.21 820.08 L1446.21 819.71 L1449.21 819.3 L1452.2 818.84 L1455.2 818.34 L1458.2 817.79 L1461.2 817.2 L1464.2 816.56 L1467.19 815.88 L1470.19 815.16 L1473.19 814.4 L1476.19 813.6 L1479.19 812.76 L1482.18 811.89 L1485.18 810.97 L1488.18 810.02 L1491.18 809.04 L1494.18 808.02 L1497.17 806.97 L1500.17 805.89 L1503.17 804.77 L1506.17 803.63 L1509.17 802.45 L1512.17 801.25 L1515.16 800.02 L1518.16 798.76 L1521.16 797.47 L1524.16 796.16 L1527.16 794.83 L1530.15 793.47 L1533.15 792.09 L1536.15 790.68 L1539.15 789.26 L1542.15 787.82 L1545.14 786.35 L1548.14 784.87 L1551.14 783.37 L1554.14 781.85 L1557.14 780.32 L1560.13 778.77 L1563.13 777.21 L1566.13 775.64 L1569.13 774.05 L1572.13 772.45 L1575.12 770.84 L1578.12 769.22 L1581.12 767.59 L1584.12 765.95 L1587.12 764.3 L1590.12 762.65 L1593.11 760.99 L1596.11 759.33 L1599.11 757.66 L1602.11 755.99 L1605.11 754.32 L1608.1 752.64 L1611.1 750.96 L1614.1 749.29 L1617.1 747.61 L1620.1 745.94 L1623.09 744.26 L1626.09 742.59 L1629.09 740.93 L1632.09 739.27 L1635.09 737.61 L1638.08 735.97 L1641.08 734.32 L1644.08 732.69 L1647.08 731.07 L1650.08 729.45 L1653.07 727.85 L1656.07 726.25 L1659.07 724.67 L1662.07 723.1 L1665.07 721.55 L1668.06 720.01 L1671.06 718.48 L1674.06 716.97 L1677.06 715.48 L1680.06 714 L1683.06 712.54 L1686.05 711.11 L1689.05 709.69 L1692.05 708.29 L1695.05 706.91 L1698.05 705.56 L1701.04 704.23 L1704.04 702.92 L1707.04 701.64 L1710.04 700.38 L1713.04 699.15 L1716.03 697.95 L1719.03 696.78 L1722.03 695.63" fill="none" stroke="#33508f" stroke-width="5" stroke-dasharray="20.1 19.7" stroke-dashoffset="-1.1"/>
<path d="M1365.26 809.73 L1368.26 810.94" fill="none" stroke="#33508f" stroke-width="5"/>
<path d="M1365.26 804.95 L1368.26 805.08 L1371.26 805.18 L1374.25 805.26 L1377.25 805.3 L1380.25 805.33 L1383.25 805.32 L1386.25 805.28 L1389.24 805.22 L1392.24 805.12 L1395.24 804.98 L1398.24 804.82 L1401.24 804.62 L1404.23 804.39 L1407.23 804.12 L1410.23 803.81 L1413.23 803.47 L1416.23 803.09 L1419.23 802.67 L1422.22 802.22 L1425.22 801.73 L1428.22 801.2 L1431.22 800.63 L1434.22 800.03 L1437.21 799.38 L1440.21 798.7 L1443.21 797.98 L1446.21 797.22 L1449.21 796.42 L1452.2 795.58 L1455.2 794.71 L1458.2 793.8 L1461.2 792.85 L1464.2 791.86 L1467.19 790.83 L1470.19 789.77 L1473.19 788.68 L1476.19 787.54 L1479.19 786.37 L1482.18 785.17 L1485.18 783.93 L1488.18 782.66 L1491.18 781.36 L1494.18 780.02 L1497.17 778.65 L1500.17 777.25 L1503.17 775.81 L1506.17 774.35 L1509.17 772.86 L1512.17 771.34 L1515.16 769.79 L1518.16 768.21 L1521.16 766.61 L1524.16 764.98 L1527.16 763.32 L1530.15 761.64 L1533.15 759.94 L1536.15 758.21 L1539.15 756.46 L1542.15 754.69 L1545.14 752.9 L1548.14 751.09 L1551.14 749.26 L1554.14 747.41 L1557.14 745.54 L1560.13 743.66 L1563.13 741.76 L1566.13 739.84 L1569.13 737.91 L1572.13 735.97 L1575.12 734.01 L1578.12 732.04 L1581.12 730.06 L1584.12 728.07 L1587.12 726.07 L1590.12 724.06 L1593.11 722.03 L1596.11 720 L1599.11 717.97 L1602.11 715.92 L1605.11 713.87 L1608.1 711.81 L1611.1 709.75 L1614.1 707.68 L1617.1 705.6 L1620.1 703.52 L1623.09 701.44 L1626.09 699.36 L1629.09 697.27 L1632.09 695.17 L1635.09 693.08 L1638.08 690.98 L1641.08 688.88 L1644.08 686.77 L1647.08 684.67 L1650.08 682.56 L1653.07 680.45 L1656.07 678.34 L1659.07 676.22 L1662.07 674.1 L1665.07 671.98 L1668.06 669.86 L1671.06 667.73 L1674.06 665.6 L1677.06 663.47 L1680.06 661.33 L1683.06 659.19 L1686.05 657.04 L1689.05 654.88 L1692.05 652.72 L1695.05 650.55 L1698.05 648.38 L1701.04 646.19 L1704.04 643.99 L1707.04 641.79 L1710.04 639.57 L1713.04 637.33 L1716.03 635.09 L1719.03 632.82 L1722.03 630.54" fill="none" stroke="#33508f" stroke-width="5"/>
<path d="M1393.75 910.04 V484.45" stroke="#000" stroke-width="2.5" stroke-dasharray="25 14.8" fill="none"/>
<path d="M1475.62 910.04 V484.45" stroke="#000" stroke-width="2.5" stroke-dasharray="25 14.8" fill="none"/>
<path d="M1639.36 910.04 V484.45" stroke="#000" stroke-width="2.5" stroke-dasharray="25 14.8" fill="none"/>
<text transform="translate(0 537.05) scale(1 1.03)"><tspan x="1399.94" textLength="112.06" lengthAdjust="spacingAndGlyphs">Australia</tspan></text>
<text transform="translate(1366.06 945.15) scale(1 1.03)" text-anchor="middle">0</text>
<text transform="translate(1475.22 945.15) scale(1 1.03)" text-anchor="middle">0.2</text>
<text transform="translate(1638.96 945.15) scale(1 1.03)" text-anchor="middle">0.5</text>
<text transform="translate(1720.83 945.15) scale(1 1.03)" text-anchor="middle">0.65</text>
</g>
<text transform="translate(922.3 987.2) scale(1 1.03)" text-anchor="middle">AI</text>
<text transform="translate(27.8 461.3) rotate(-90) scale(1 1.03)" text-anchor="middle">GPP (kg C m<tspan dy="-12.5" font-size="20">–2</tspan><tspan dy="12.5">)</tspan></text>
</svg></body></html>
